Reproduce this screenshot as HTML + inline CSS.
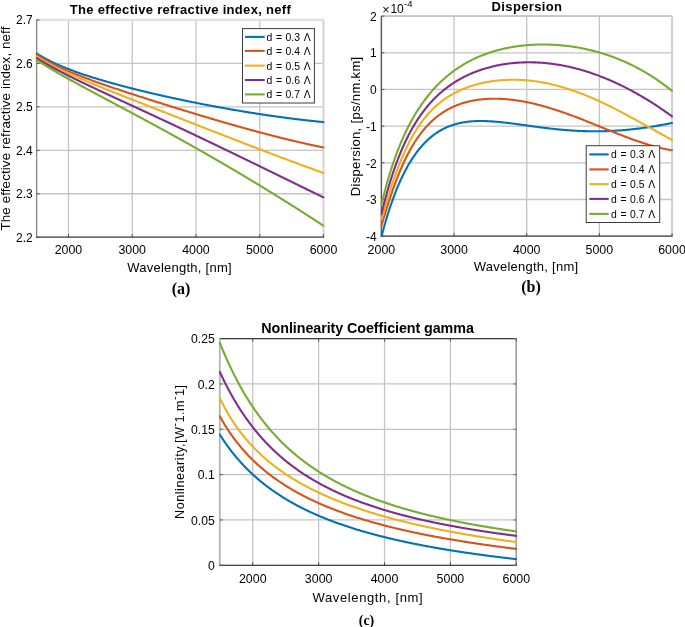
<!DOCTYPE html>
<html><head><meta charset="utf-8"><style>
html,body{margin:0;padding:0;background:#fff;width:685px;height:627px;overflow:hidden;}
svg{display:block;will-change:transform;}
</style></head><body>
<svg width="685" height="627" viewBox="0 0 685 627">
<rect width="685" height="627" fill="#fff"/>
<defs>
<clipPath id="ca"><rect x="35.6" y="18.45" width="288.9" height="219.25"/></clipPath>
<clipPath id="cb"><rect x="380.4" y="14.600000000000001" width="292.6" height="222.1"/></clipPath>
<clipPath id="cc"><rect x="218.8" y="337.1" width="298.49999999999994" height="228.69999999999993"/></clipPath>
</defs>
<line x1="68.48" y1="19.95" x2="68.48" y2="237.2" stroke="#c4c4c4" stroke-width="1.3"/>
<line x1="132.23" y1="19.95" x2="132.23" y2="237.2" stroke="#c4c4c4" stroke-width="1.3"/>
<line x1="195.99" y1="19.95" x2="195.99" y2="237.2" stroke="#c4c4c4" stroke-width="1.3"/>
<line x1="259.74" y1="19.95" x2="259.74" y2="237.2" stroke="#c4c4c4" stroke-width="1.3"/>
<line x1="323.50" y1="19.95" x2="323.50" y2="237.2" stroke="#c4c4c4" stroke-width="1.3"/>
<line x1="36.6" y1="237.20" x2="323.5" y2="237.20" stroke="#c4c4c4" stroke-width="1.3"/>
<line x1="36.6" y1="193.75" x2="323.5" y2="193.75" stroke="#c4c4c4" stroke-width="1.3"/>
<line x1="36.6" y1="150.30" x2="323.5" y2="150.30" stroke="#c4c4c4" stroke-width="1.3"/>
<line x1="36.6" y1="106.85" x2="323.5" y2="106.85" stroke="#c4c4c4" stroke-width="1.3"/>
<line x1="36.6" y1="63.40" x2="323.5" y2="63.40" stroke="#c4c4c4" stroke-width="1.3"/>
<line x1="36.6" y1="19.95" x2="323.5" y2="19.95" stroke="#c4c4c4" stroke-width="1.3"/>
<line x1="36.6" y1="19.95" x2="323.5" y2="19.95" stroke="#e0e0e0" stroke-width="2.2"/>
<line x1="323.5" y1="19.95" x2="323.5" y2="237.2" stroke="#d4d4d4" stroke-width="1.8"/>
<line x1="36.6" y1="19.95" x2="36.6" y2="237.2" stroke="#8a8a8a" stroke-width="1.4"/>
<line x1="36.0" y1="237.2" x2="324.1" y2="237.2" stroke="#4a4a4a" stroke-width="1.3"/>
<line x1="68.48" y1="237.2" x2="68.48" y2="234.2" stroke="#4a4a4a" stroke-width="1"/>
<line x1="132.23" y1="237.2" x2="132.23" y2="234.2" stroke="#4a4a4a" stroke-width="1"/>
<line x1="195.99" y1="237.2" x2="195.99" y2="234.2" stroke="#4a4a4a" stroke-width="1"/>
<line x1="259.74" y1="237.2" x2="259.74" y2="234.2" stroke="#4a4a4a" stroke-width="1"/>
<line x1="323.50" y1="237.2" x2="323.50" y2="234.2" stroke="#4a4a4a" stroke-width="1"/>
<line x1="36.6" y1="237.20" x2="39.6" y2="237.20" stroke="#555" stroke-width="1"/>
<line x1="36.6" y1="193.75" x2="39.6" y2="193.75" stroke="#555" stroke-width="1"/>
<line x1="36.6" y1="150.30" x2="39.6" y2="150.30" stroke="#555" stroke-width="1"/>
<line x1="36.6" y1="106.85" x2="39.6" y2="106.85" stroke="#555" stroke-width="1"/>
<line x1="36.6" y1="63.40" x2="39.6" y2="63.40" stroke="#555" stroke-width="1"/>
<line x1="36.6" y1="19.95" x2="39.6" y2="19.95" stroke="#555" stroke-width="1"/>
<path d="M36.60,53.50 37.32,53.95 38.04,54.40 38.76,54.84 39.48,55.27 40.20,55.70 40.91,56.12 41.63,56.53 42.35,56.94 43.07,57.35 43.79,57.75 44.51,58.14 45.23,58.53 45.95,58.91 46.67,59.29 47.39,59.66 48.10,60.03 48.82,60.40 49.54,60.76 50.26,61.12 50.98,61.47 51.70,61.82 52.42,62.17 53.14,62.51 53.86,62.85 54.58,63.18 55.30,63.51 56.01,63.84 56.73,64.16 57.45,64.48 58.17,64.80 58.89,65.12 59.61,65.43 60.33,65.74 61.05,66.04 61.77,66.35 62.49,66.65 63.20,66.95 63.92,67.24 64.64,67.53 65.36,67.82 66.08,68.11 66.80,68.40 67.52,68.68 68.24,68.96 68.96,69.24 69.68,69.52 70.40,69.79 71.11,70.06 71.83,70.33 72.55,70.60 73.27,70.87 73.99,71.13 74.71,71.40 75.43,71.66 76.15,71.92 76.87,72.17 77.59,72.43 78.30,72.68 79.02,72.93 79.74,73.19 80.46,73.43 81.18,73.68 81.90,73.93 82.62,74.17 83.34,74.41 84.06,74.66 84.78,74.90 85.50,75.13 86.21,75.37 86.93,75.61 87.65,75.84 88.37,76.08 89.09,76.31 89.81,76.54 90.53,76.77 91.25,77.00 91.97,77.22 92.69,77.45 93.40,77.67 94.12,77.90 94.84,78.12 95.56,78.34 96.28,78.56 97.00,78.78 97.72,79.00 98.44,79.22 99.16,79.43 99.88,79.65 100.60,79.86 101.31,80.08 102.03,80.29 102.75,80.50 103.47,80.71 104.19,80.92 104.91,81.13 105.63,81.34 106.35,81.54 107.07,81.75 107.79,81.96 108.50,82.16 109.22,82.36 109.94,82.57 110.66,82.77 111.38,82.97 112.10,83.17 112.82,83.37 113.54,83.57 114.26,83.77 114.98,83.97 115.70,84.16 116.41,84.36 117.13,84.55 117.85,84.75 118.57,84.94 119.29,85.14 120.01,85.33 120.73,85.52 121.45,85.71 122.17,85.90 122.89,86.09 123.60,86.28 124.32,86.47 125.04,86.66 125.76,86.85 126.48,87.03 127.20,87.22 127.92,87.41 128.64,87.59 129.36,87.77 130.08,87.96 130.80,88.14 131.51,88.33 132.23,88.51 132.95,88.69 133.67,88.87 134.39,89.05 135.11,89.23 135.83,89.41 136.55,89.59 137.27,89.77 137.99,89.95 138.70,90.12 139.42,90.30 140.14,90.48 140.86,90.65 141.58,90.83 142.30,91.00 143.02,91.18 143.74,91.35 144.46,91.52 145.18,91.70 145.90,91.87 146.61,92.04 147.33,92.21 148.05,92.38 148.77,92.55 149.49,92.72 150.21,92.89 150.93,93.06 151.65,93.23 152.37,93.40 153.09,93.57 153.80,93.74 154.52,93.90 155.24,94.07 155.96,94.23 156.68,94.40 157.40,94.57 158.12,94.73 158.84,94.89 159.56,95.06 160.28,95.22 161.00,95.38 161.71,95.55 162.43,95.71 163.15,95.87 163.87,96.03 164.59,96.19 165.31,96.35 166.03,96.51 166.75,96.67 167.47,96.83 168.19,96.99 168.90,97.15 169.62,97.31 170.34,97.47 171.06,97.62 171.78,97.78 172.50,97.94 173.22,98.09 173.94,98.25 174.66,98.40 175.38,98.56 176.10,98.71 176.81,98.87 177.53,99.02 178.25,99.17 178.97,99.33 179.69,99.48 180.41,99.63 181.13,99.78 181.85,99.93 182.57,100.09 183.29,100.24 184.00,100.39 184.72,100.54 185.44,100.69 186.16,100.83 186.88,100.98 187.60,101.13 188.32,101.28 189.04,101.43 189.76,101.57 190.48,101.72 191.20,101.87 191.91,102.01 192.63,102.16 193.35,102.30 194.07,102.45 194.79,102.59 195.51,102.74 196.23,102.88 196.95,103.03 197.67,103.17 198.39,103.31 199.10,103.45 199.82,103.59 200.54,103.74 201.26,103.88 201.98,104.02 202.70,104.16 203.42,104.30 204.14,104.44 204.86,104.58 205.58,104.72 206.30,104.86 207.01,104.99 207.73,105.13 208.45,105.27 209.17,105.41 209.89,105.54 210.61,105.68 211.33,105.81 212.05,105.95 212.77,106.09 213.49,106.22 214.20,106.35 214.92,106.49 215.64,106.62 216.36,106.76 217.08,106.89 217.80,107.02 218.52,107.15 219.24,107.28 219.96,107.42 220.68,107.55 221.40,107.68 222.11,107.81 222.83,107.94 223.55,108.07 224.27,108.20 224.99,108.33 225.71,108.45 226.43,108.58 227.15,108.71 227.87,108.84 228.59,108.96 229.30,109.09 230.02,109.22 230.74,109.34 231.46,109.47 232.18,109.59 232.90,109.72 233.62,109.84 234.34,109.96 235.06,110.09 235.78,110.21 236.50,110.33 237.21,110.46 237.93,110.58 238.65,110.70 239.37,110.82 240.09,110.94 240.81,111.06 241.53,111.18 242.25,111.30 242.97,111.42 243.69,111.54 244.40,111.66 245.12,111.78 245.84,111.89 246.56,112.01 247.28,112.13 248.00,112.24 248.72,112.36 249.44,112.48 250.16,112.59 250.88,112.71 251.60,112.82 252.31,112.93 253.03,113.05 253.75,113.16 254.47,113.27 255.19,113.39 255.91,113.50 256.63,113.61 257.35,113.72 258.07,113.83 258.79,113.94 259.50,114.05 260.22,114.16 260.94,114.27 261.66,114.38 262.38,114.49 263.10,114.60 263.82,114.70 264.54,114.81 265.26,114.92 265.98,115.02 266.70,115.13 267.41,115.23 268.13,115.34 268.85,115.44 269.57,115.55 270.29,115.65 271.01,115.76 271.73,115.86 272.45,115.96 273.17,116.06 273.89,116.16 274.60,116.27 275.32,116.37 276.04,116.47 276.76,116.57 277.48,116.67 278.20,116.77 278.92,116.86 279.64,116.96 280.36,117.06 281.08,117.16 281.80,117.25 282.51,117.35 283.23,117.45 283.95,117.54 284.67,117.64 285.39,117.73 286.11,117.83 286.83,117.92 287.55,118.01 288.27,118.11 288.99,118.20 289.70,118.29 290.42,118.38 291.14,118.48 291.86,118.57 292.58,118.66 293.30,118.75 294.02,118.84 294.74,118.93 295.46,119.01 296.18,119.10 296.90,119.19 297.61,119.28 298.33,119.36 299.05,119.45 299.77,119.54 300.49,119.62 301.21,119.71 301.93,119.79 302.65,119.87 303.37,119.96 304.09,120.04 304.80,120.12 305.52,120.21 306.24,120.29 306.96,120.37 307.68,120.45 308.40,120.53 309.12,120.61 309.84,120.69 310.56,120.77 311.28,120.85 312.00,120.92 312.71,121.00 313.43,121.08 314.15,121.15 314.87,121.23 315.59,121.31 316.31,121.38 317.03,121.46 317.75,121.53 318.47,121.60 319.19,121.68 319.90,121.75 320.62,121.82 321.34,121.89 322.06,121.96 322.78,122.03 323.50,122.10" fill="none" stroke="#0072BD" stroke-width="2.1" stroke-linejoin="round" stroke-linecap="round" clip-path="url(#ca)"/>
<path d="M36.60,54.81 37.32,55.28 38.04,55.75 38.76,56.21 39.48,56.66 40.20,57.10 40.91,57.54 41.63,57.98 42.35,58.41 43.07,58.83 43.79,59.25 44.51,59.66 45.23,60.07 45.95,60.47 46.67,60.87 47.39,61.26 48.10,61.65 48.82,62.04 49.54,62.42 50.26,62.79 50.98,63.17 51.70,63.53 52.42,63.90 53.14,64.26 53.86,64.62 54.58,64.97 55.30,65.32 56.01,65.67 56.73,66.02 57.45,66.36 58.17,66.70 58.89,67.03 59.61,67.37 60.33,67.70 61.05,68.02 61.77,68.35 62.49,68.67 63.20,68.99 63.92,69.31 64.64,69.63 65.36,69.94 66.08,70.25 66.80,70.56 67.52,70.87 68.24,71.17 68.96,71.48 69.68,71.78 70.40,72.08 71.11,72.37 71.83,72.67 72.55,72.96 73.27,73.26 73.99,73.55 74.71,73.84 75.43,74.12 76.15,74.41 76.87,74.69 77.59,74.98 78.30,75.26 79.02,75.54 79.74,75.82 80.46,76.10 81.18,76.37 81.90,76.65 82.62,76.92 83.34,77.20 84.06,77.47 84.78,77.74 85.50,78.01 86.21,78.28 86.93,78.54 87.65,78.81 88.37,79.08 89.09,79.34 89.81,79.60 90.53,79.87 91.25,80.13 91.97,80.39 92.69,80.65 93.40,80.91 94.12,81.17 94.84,81.43 95.56,81.68 96.28,81.94 97.00,82.20 97.72,82.45 98.44,82.71 99.16,82.96 99.88,83.21 100.60,83.46 101.31,83.72 102.03,83.97 102.75,84.22 103.47,84.47 104.19,84.72 104.91,84.96 105.63,85.21 106.35,85.46 107.07,85.71 107.79,85.95 108.50,86.20 109.22,86.45 109.94,86.69 110.66,86.93 111.38,87.18 112.10,87.42 112.82,87.67 113.54,87.91 114.26,88.15 114.98,88.39 115.70,88.63 116.41,88.88 117.13,89.12 117.85,89.36 118.57,89.60 119.29,89.84 120.01,90.08 120.73,90.32 121.45,90.55 122.17,90.79 122.89,91.03 123.60,91.27 124.32,91.50 125.04,91.74 125.76,91.98 126.48,92.22 127.20,92.45 127.92,92.69 128.64,92.92 129.36,93.16 130.08,93.39 130.80,93.63 131.51,93.86 132.23,94.10 132.95,94.33 133.67,94.56 134.39,94.80 135.11,95.03 135.83,95.26 136.55,95.50 137.27,95.73 137.99,95.96 138.70,96.19 139.42,96.42 140.14,96.66 140.86,96.89 141.58,97.12 142.30,97.35 143.02,97.58 143.74,97.81 144.46,98.04 145.18,98.27 145.90,98.50 146.61,98.73 147.33,98.96 148.05,99.19 148.77,99.42 149.49,99.65 150.21,99.88 150.93,100.10 151.65,100.33 152.37,100.56 153.09,100.79 153.80,101.02 154.52,101.24 155.24,101.47 155.96,101.70 156.68,101.93 157.40,102.15 158.12,102.38 158.84,102.61 159.56,102.83 160.28,103.06 161.00,103.29 161.71,103.51 162.43,103.74 163.15,103.96 163.87,104.19 164.59,104.41 165.31,104.64 166.03,104.86 166.75,105.09 167.47,105.31 168.19,105.54 168.90,105.76 169.62,105.98 170.34,106.21 171.06,106.43 171.78,106.66 172.50,106.88 173.22,107.10 173.94,107.32 174.66,107.55 175.38,107.77 176.10,107.99 176.81,108.21 177.53,108.44 178.25,108.66 178.97,108.88 179.69,109.10 180.41,109.32 181.13,109.54 181.85,109.77 182.57,109.99 183.29,110.21 184.00,110.43 184.72,110.65 185.44,110.87 186.16,111.09 186.88,111.31 187.60,111.53 188.32,111.75 189.04,111.96 189.76,112.18 190.48,112.40 191.20,112.62 191.91,112.84 192.63,113.06 193.35,113.28 194.07,113.49 194.79,113.71 195.51,113.93 196.23,114.15 196.95,114.36 197.67,114.58 198.39,114.80 199.10,115.01 199.82,115.23 200.54,115.44 201.26,115.66 201.98,115.88 202.70,116.09 203.42,116.31 204.14,116.52 204.86,116.74 205.58,116.95 206.30,117.16 207.01,117.38 207.73,117.59 208.45,117.81 209.17,118.02 209.89,118.23 210.61,118.45 211.33,118.66 212.05,118.87 212.77,119.08 213.49,119.29 214.20,119.51 214.92,119.72 215.64,119.93 216.36,120.14 217.08,120.35 217.80,120.56 218.52,120.77 219.24,120.98 219.96,121.19 220.68,121.40 221.40,121.61 222.11,121.82 222.83,122.03 223.55,122.24 224.27,122.44 224.99,122.65 225.71,122.86 226.43,123.07 227.15,123.27 227.87,123.48 228.59,123.69 229.30,123.89 230.02,124.10 230.74,124.30 231.46,124.51 232.18,124.71 232.90,124.92 233.62,125.12 234.34,125.33 235.06,125.53 235.78,125.73 236.50,125.94 237.21,126.14 237.93,126.34 238.65,126.55 239.37,126.75 240.09,126.95 240.81,127.15 241.53,127.35 242.25,127.55 242.97,127.75 243.69,127.95 244.40,128.15 245.12,128.35 245.84,128.55 246.56,128.75 247.28,128.95 248.00,129.15 248.72,129.34 249.44,129.54 250.16,129.74 250.88,129.93 251.60,130.13 252.31,130.33 253.03,130.52 253.75,130.72 254.47,130.91 255.19,131.11 255.91,131.30 256.63,131.49 257.35,131.69 258.07,131.88 258.79,132.07 259.50,132.27 260.22,132.46 260.94,132.65 261.66,132.84 262.38,133.03 263.10,133.22 263.82,133.41 264.54,133.60 265.26,133.79 265.98,133.98 266.70,134.17 267.41,134.35 268.13,134.54 268.85,134.73 269.57,134.91 270.29,135.10 271.01,135.29 271.73,135.47 272.45,135.66 273.17,135.84 273.89,136.03 274.60,136.21 275.32,136.39 276.04,136.57 276.76,136.76 277.48,136.94 278.20,137.12 278.92,137.30 279.64,137.48 280.36,137.66 281.08,137.84 281.80,138.02 282.51,138.20 283.23,138.38 283.95,138.55 284.67,138.73 285.39,138.91 286.11,139.08 286.83,139.26 287.55,139.44 288.27,139.61 288.99,139.78 289.70,139.96 290.42,140.13 291.14,140.30 291.86,140.48 292.58,140.65 293.30,140.82 294.02,140.99 294.74,141.16 295.46,141.33 296.18,141.50 296.90,141.67 297.61,141.84 298.33,142.00 299.05,142.17 299.77,142.34 300.49,142.50 301.21,142.67 301.93,142.83 302.65,143.00 303.37,143.16 304.09,143.33 304.80,143.49 305.52,143.65 306.24,143.81 306.96,143.97 307.68,144.13 308.40,144.29 309.12,144.45 309.84,144.61 310.56,144.77 311.28,144.93 312.00,145.09 312.71,145.24 313.43,145.40 314.15,145.55 314.87,145.71 315.59,145.86 316.31,146.02 317.03,146.17 317.75,146.32 318.47,146.47 319.19,146.62 319.90,146.78 320.62,146.93 321.34,147.07 322.06,147.22 322.78,147.37 323.50,147.52" fill="none" stroke="#D95319" stroke-width="2.1" stroke-linejoin="round" stroke-linecap="round" clip-path="url(#ca)"/>
<path d="M36.60,56.28 37.32,56.74 38.04,57.20 38.76,57.66 39.48,58.11 40.20,58.56 40.91,59.00 41.63,59.44 42.35,59.87 43.07,60.29 43.79,60.72 44.51,61.13 45.23,61.55 45.95,61.96 46.67,62.37 47.39,62.77 48.10,63.17 48.82,63.56 49.54,63.95 50.26,64.34 50.98,64.73 51.70,65.11 52.42,65.49 53.14,65.87 53.86,66.24 54.58,66.61 55.30,66.98 56.01,67.35 56.73,67.71 57.45,68.07 58.17,68.43 58.89,68.78 59.61,69.14 60.33,69.49 61.05,69.84 61.77,70.18 62.49,70.53 63.20,70.87 63.92,71.22 64.64,71.55 65.36,71.89 66.08,72.23 66.80,72.56 67.52,72.90 68.24,73.23 68.96,73.56 69.68,73.89 70.40,74.21 71.11,74.54 71.83,74.86 72.55,75.18 73.27,75.51 73.99,75.83 74.71,76.15 75.43,76.46 76.15,76.78 76.87,77.10 77.59,77.41 78.30,77.72 79.02,78.04 79.74,78.35 80.46,78.66 81.18,78.97 81.90,79.27 82.62,79.58 83.34,79.89 84.06,80.20 84.78,80.50 85.50,80.80 86.21,81.11 86.93,81.41 87.65,81.71 88.37,82.01 89.09,82.31 89.81,82.61 90.53,82.91 91.25,83.21 91.97,83.51 92.69,83.81 93.40,84.11 94.12,84.40 94.84,84.70 95.56,84.99 96.28,85.29 97.00,85.58 97.72,85.88 98.44,86.17 99.16,86.46 99.88,86.76 100.60,87.05 101.31,87.34 102.03,87.63 102.75,87.92 103.47,88.21 104.19,88.50 104.91,88.79 105.63,89.08 106.35,89.37 107.07,89.66 107.79,89.95 108.50,90.24 109.22,90.52 109.94,90.81 110.66,91.10 111.38,91.39 112.10,91.67 112.82,91.96 113.54,92.25 114.26,92.53 114.98,92.82 115.70,93.10 116.41,93.39 117.13,93.67 117.85,93.96 118.57,94.24 119.29,94.53 120.01,94.81 120.73,95.10 121.45,95.38 122.17,95.67 122.89,95.95 123.60,96.23 124.32,96.52 125.04,96.80 125.76,97.09 126.48,97.37 127.20,97.65 127.92,97.93 128.64,98.22 129.36,98.50 130.08,98.78 130.80,99.07 131.51,99.35 132.23,99.63 132.95,99.91 133.67,100.20 134.39,100.48 135.11,100.76 135.83,101.04 136.55,101.32 137.27,101.61 137.99,101.89 138.70,102.17 139.42,102.45 140.14,102.73 140.86,103.02 141.58,103.30 142.30,103.58 143.02,103.86 143.74,104.14 144.46,104.42 145.18,104.71 145.90,104.99 146.61,105.27 147.33,105.55 148.05,105.83 148.77,106.11 149.49,106.39 150.21,106.67 150.93,106.96 151.65,107.24 152.37,107.52 153.09,107.80 153.80,108.08 154.52,108.36 155.24,108.64 155.96,108.92 156.68,109.21 157.40,109.49 158.12,109.77 158.84,110.05 159.56,110.33 160.28,110.61 161.00,110.89 161.71,111.17 162.43,111.46 163.15,111.74 163.87,112.02 164.59,112.30 165.31,112.58 166.03,112.86 166.75,113.14 167.47,113.42 168.19,113.71 168.90,113.99 169.62,114.27 170.34,114.55 171.06,114.83 171.78,115.11 172.50,115.39 173.22,115.67 173.94,115.95 174.66,116.24 175.38,116.52 176.10,116.80 176.81,117.08 177.53,117.36 178.25,117.64 178.97,117.92 179.69,118.20 180.41,118.49 181.13,118.77 181.85,119.05 182.57,119.33 183.29,119.61 184.00,119.89 184.72,120.17 185.44,120.46 186.16,120.74 186.88,121.02 187.60,121.30 188.32,121.58 189.04,121.86 189.76,122.14 190.48,122.42 191.20,122.71 191.91,122.99 192.63,123.27 193.35,123.55 194.07,123.83 194.79,124.11 195.51,124.39 196.23,124.67 196.95,124.96 197.67,125.24 198.39,125.52 199.10,125.80 199.82,126.08 200.54,126.36 201.26,126.64 201.98,126.92 202.70,127.20 203.42,127.49 204.14,127.77 204.86,128.05 205.58,128.33 206.30,128.61 207.01,128.89 207.73,129.17 208.45,129.45 209.17,129.73 209.89,130.01 210.61,130.29 211.33,130.58 212.05,130.86 212.77,131.14 213.49,131.42 214.20,131.70 214.92,131.98 215.64,132.26 216.36,132.54 217.08,132.82 217.80,133.10 218.52,133.38 219.24,133.66 219.96,133.94 220.68,134.22 221.40,134.50 222.11,134.78 222.83,135.06 223.55,135.34 224.27,135.62 224.99,135.90 225.71,136.18 226.43,136.46 227.15,136.74 227.87,137.02 228.59,137.30 229.30,137.58 230.02,137.86 230.74,138.14 231.46,138.42 232.18,138.70 232.90,138.98 233.62,139.26 234.34,139.53 235.06,139.81 235.78,140.09 236.50,140.37 237.21,140.65 237.93,140.93 238.65,141.21 239.37,141.49 240.09,141.76 240.81,142.04 241.53,142.32 242.25,142.60 242.97,142.88 243.69,143.15 244.40,143.43 245.12,143.71 245.84,143.99 246.56,144.26 247.28,144.54 248.00,144.82 248.72,145.10 249.44,145.37 250.16,145.65 250.88,145.93 251.60,146.20 252.31,146.48 253.03,146.76 253.75,147.03 254.47,147.31 255.19,147.59 255.91,147.86 256.63,148.14 257.35,148.41 258.07,148.69 258.79,148.96 259.50,149.24 260.22,149.51 260.94,149.79 261.66,150.06 262.38,150.34 263.10,150.61 263.82,150.89 264.54,151.16 265.26,151.44 265.98,151.71 266.70,151.98 267.41,152.26 268.13,152.53 268.85,152.80 269.57,153.08 270.29,153.35 271.01,153.62 271.73,153.90 272.45,154.17 273.17,154.44 273.89,154.71 274.60,154.98 275.32,155.26 276.04,155.53 276.76,155.80 277.48,156.07 278.20,156.34 278.92,156.61 279.64,156.88 280.36,157.15 281.08,157.42 281.80,157.69 282.51,157.96 283.23,158.23 283.95,158.50 284.67,158.77 285.39,159.04 286.11,159.31 286.83,159.58 287.55,159.85 288.27,160.12 288.99,160.38 289.70,160.65 290.42,160.92 291.14,161.19 291.86,161.45 292.58,161.72 293.30,161.99 294.02,162.25 294.74,162.52 295.46,162.79 296.18,163.05 296.90,163.32 297.61,163.58 298.33,163.85 299.05,164.11 299.77,164.38 300.49,164.64 301.21,164.90 301.93,165.17 302.65,165.43 303.37,165.69 304.09,165.96 304.80,166.22 305.52,166.48 306.24,166.75 306.96,167.01 307.68,167.27 308.40,167.53 309.12,167.79 309.84,168.05 310.56,168.31 311.28,168.57 312.00,168.83 312.71,169.09 313.43,169.35 314.15,169.61 314.87,169.87 315.59,170.13 316.31,170.39 317.03,170.64 317.75,170.90 318.47,171.16 319.19,171.42 319.90,171.67 320.62,171.93 321.34,172.19 322.06,172.44 322.78,172.70 323.50,172.95" fill="none" stroke="#EDB120" stroke-width="2.1" stroke-linejoin="round" stroke-linecap="round" clip-path="url(#ca)"/>
<path d="M36.60,58.03 37.32,58.49 38.04,58.94 38.76,59.39 39.48,59.84 40.20,60.28 40.91,60.72 41.63,61.16 42.35,61.59 43.07,62.02 43.79,62.45 44.51,62.87 45.23,63.29 45.95,63.71 46.67,64.12 47.39,64.53 48.10,64.94 48.82,65.35 49.54,65.75 50.26,66.16 50.98,66.56 51.70,66.95 52.42,67.35 53.14,67.74 53.86,68.13 54.58,68.52 55.30,68.91 56.01,69.29 56.73,69.68 57.45,70.06 58.17,70.44 58.89,70.82 59.61,71.19 60.33,71.57 61.05,71.94 61.77,72.31 62.49,72.68 63.20,73.05 63.92,73.42 64.64,73.79 65.36,74.15 66.08,74.52 66.80,74.88 67.52,75.24 68.24,75.60 68.96,75.96 69.68,76.32 70.40,76.68 71.11,77.03 71.83,77.39 72.55,77.74 73.27,78.10 73.99,78.45 74.71,78.80 75.43,79.15 76.15,79.51 76.87,79.85 77.59,80.20 78.30,80.55 79.02,80.90 79.74,81.25 80.46,81.59 81.18,81.94 81.90,82.28 82.62,82.63 83.34,82.97 84.06,83.32 84.78,83.66 85.50,84.00 86.21,84.34 86.93,84.69 87.65,85.03 88.37,85.37 89.09,85.71 89.81,86.05 90.53,86.39 91.25,86.73 91.97,87.06 92.69,87.40 93.40,87.74 94.12,88.08 94.84,88.41 95.56,88.75 96.28,89.09 97.00,89.42 97.72,89.76 98.44,90.10 99.16,90.43 99.88,90.77 100.60,91.10 101.31,91.44 102.03,91.77 102.75,92.11 103.47,92.44 104.19,92.77 104.91,93.11 105.63,93.44 106.35,93.78 107.07,94.11 107.79,94.44 108.50,94.78 109.22,95.11 109.94,95.44 110.66,95.78 111.38,96.11 112.10,96.44 112.82,96.77 113.54,97.11 114.26,97.44 114.98,97.77 115.70,98.10 116.41,98.44 117.13,98.77 117.85,99.10 118.57,99.43 119.29,99.76 120.01,100.10 120.73,100.43 121.45,100.76 122.17,101.09 122.89,101.42 123.60,101.76 124.32,102.09 125.04,102.42 125.76,102.75 126.48,103.08 127.20,103.42 127.92,103.75 128.64,104.08 129.36,104.41 130.08,104.74 130.80,105.08 131.51,105.41 132.23,105.74 132.95,106.07 133.67,106.40 134.39,106.74 135.11,107.07 135.83,107.40 136.55,107.73 137.27,108.07 137.99,108.40 138.70,108.73 139.42,109.06 140.14,109.40 140.86,109.73 141.58,110.06 142.30,110.40 143.02,110.73 143.74,111.06 144.46,111.39 145.18,111.73 145.90,112.06 146.61,112.40 147.33,112.73 148.05,113.06 148.77,113.40 149.49,113.73 150.21,114.06 150.93,114.40 151.65,114.73 152.37,115.07 153.09,115.40 153.80,115.74 154.52,116.07 155.24,116.40 155.96,116.74 156.68,117.07 157.40,117.41 158.12,117.74 158.84,118.08 159.56,118.41 160.28,118.75 161.00,119.09 161.71,119.42 162.43,119.76 163.15,120.09 163.87,120.43 164.59,120.77 165.31,121.10 166.03,121.44 166.75,121.77 167.47,122.11 168.19,122.45 168.90,122.78 169.62,123.12 170.34,123.46 171.06,123.80 171.78,124.13 172.50,124.47 173.22,124.81 173.94,125.15 174.66,125.48 175.38,125.82 176.10,126.16 176.81,126.50 177.53,126.84 178.25,127.18 178.97,127.51 179.69,127.85 180.41,128.19 181.13,128.53 181.85,128.87 182.57,129.21 183.29,129.55 184.00,129.89 184.72,130.23 185.44,130.57 186.16,130.91 186.88,131.25 187.60,131.59 188.32,131.93 189.04,132.27 189.76,132.61 190.48,132.95 191.20,133.29 191.91,133.63 192.63,133.97 193.35,134.31 194.07,134.65 194.79,135.00 195.51,135.34 196.23,135.68 196.95,136.02 197.67,136.36 198.39,136.70 199.10,137.05 199.82,137.39 200.54,137.73 201.26,138.07 201.98,138.42 202.70,138.76 203.42,139.10 204.14,139.44 204.86,139.79 205.58,140.13 206.30,140.47 207.01,140.82 207.73,141.16 208.45,141.51 209.17,141.85 209.89,142.19 210.61,142.54 211.33,142.88 212.05,143.23 212.77,143.57 213.49,143.91 214.20,144.26 214.92,144.60 215.64,144.95 216.36,145.29 217.08,145.64 217.80,145.98 218.52,146.33 219.24,146.67 219.96,147.02 220.68,147.37 221.40,147.71 222.11,148.06 222.83,148.40 223.55,148.75 224.27,149.10 224.99,149.44 225.71,149.79 226.43,150.13 227.15,150.48 227.87,150.83 228.59,151.17 229.30,151.52 230.02,151.87 230.74,152.22 231.46,152.56 232.18,152.91 232.90,153.26 233.62,153.60 234.34,153.95 235.06,154.30 235.78,154.65 236.50,155.00 237.21,155.34 237.93,155.69 238.65,156.04 239.37,156.39 240.09,156.74 240.81,157.08 241.53,157.43 242.25,157.78 242.97,158.13 243.69,158.48 244.40,158.83 245.12,159.18 245.84,159.52 246.56,159.87 247.28,160.22 248.00,160.57 248.72,160.92 249.44,161.27 250.16,161.62 250.88,161.97 251.60,162.32 252.31,162.67 253.03,163.02 253.75,163.37 254.47,163.72 255.19,164.07 255.91,164.42 256.63,164.77 257.35,165.12 258.07,165.47 258.79,165.82 259.50,166.17 260.22,166.52 260.94,166.87 261.66,167.22 262.38,167.57 263.10,167.92 263.82,168.27 264.54,168.62 265.26,168.97 265.98,169.32 266.70,169.67 267.41,170.02 268.13,170.37 268.85,170.72 269.57,171.07 270.29,171.42 271.01,171.78 271.73,172.13 272.45,172.48 273.17,172.83 273.89,173.18 274.60,173.53 275.32,173.88 276.04,174.23 276.76,174.58 277.48,174.94 278.20,175.29 278.92,175.64 279.64,175.99 280.36,176.34 281.08,176.69 281.80,177.04 282.51,177.40 283.23,177.75 283.95,178.10 284.67,178.45 285.39,178.80 286.11,179.15 286.83,179.51 287.55,179.86 288.27,180.21 288.99,180.56 289.70,180.91 290.42,181.26 291.14,181.62 291.86,181.97 292.58,182.32 293.30,182.67 294.02,183.02 294.74,183.37 295.46,183.73 296.18,184.08 296.90,184.43 297.61,184.78 298.33,185.13 299.05,185.48 299.77,185.84 300.49,186.19 301.21,186.54 301.93,186.89 302.65,187.24 303.37,187.59 304.09,187.95 304.80,188.30 305.52,188.65 306.24,189.00 306.96,189.35 307.68,189.70 308.40,190.06 309.12,190.41 309.84,190.76 310.56,191.11 311.28,191.46 312.00,191.81 312.71,192.17 313.43,192.52 314.15,192.87 314.87,193.22 315.59,193.57 316.31,193.92 317.03,194.27 317.75,194.62 318.47,194.98 319.19,195.33 319.90,195.68 320.62,196.03 321.34,196.38 322.06,196.73 322.78,197.08 323.50,197.43" fill="none" stroke="#7E2F8E" stroke-width="2.1" stroke-linejoin="round" stroke-linecap="round" clip-path="url(#ca)"/>
<path d="M36.60,59.94 37.32,60.41 38.04,60.87 38.76,61.34 39.48,61.80 40.20,62.26 40.91,62.71 41.63,63.17 42.35,63.62 43.07,64.07 43.79,64.52 44.51,64.96 45.23,65.40 45.95,65.84 46.67,66.28 47.39,66.72 48.10,67.15 48.82,67.59 49.54,68.02 50.26,68.45 50.98,68.88 51.70,69.30 52.42,69.73 53.14,70.15 53.86,70.57 54.58,70.99 55.30,71.41 56.01,71.83 56.73,72.24 57.45,72.66 58.17,73.07 58.89,73.49 59.61,73.90 60.33,74.31 61.05,74.72 61.77,75.13 62.49,75.53 63.20,75.94 63.92,76.34 64.64,76.75 65.36,77.15 66.08,77.56 66.80,77.96 67.52,78.36 68.24,78.76 68.96,79.16 69.68,79.56 70.40,79.96 71.11,80.35 71.83,80.75 72.55,81.15 73.27,81.54 73.99,81.94 74.71,82.33 75.43,82.72 76.15,83.12 76.87,83.51 77.59,83.90 78.30,84.29 79.02,84.69 79.74,85.08 80.46,85.47 81.18,85.86 81.90,86.25 82.62,86.64 83.34,87.03 84.06,87.41 84.78,87.80 85.50,88.19 86.21,88.58 86.93,88.96 87.65,89.35 88.37,89.74 89.09,90.13 89.81,90.51 90.53,90.90 91.25,91.28 91.97,91.67 92.69,92.05 93.40,92.44 94.12,92.82 94.84,93.21 95.56,93.59 96.28,93.98 97.00,94.36 97.72,94.75 98.44,95.13 99.16,95.51 99.88,95.90 100.60,96.28 101.31,96.66 102.03,97.05 102.75,97.43 103.47,97.81 104.19,98.20 104.91,98.58 105.63,98.96 106.35,99.35 107.07,99.73 107.79,100.11 108.50,100.50 109.22,100.88 109.94,101.26 110.66,101.64 111.38,102.03 112.10,102.41 112.82,102.79 113.54,103.18 114.26,103.56 114.98,103.94 115.70,104.32 116.41,104.71 117.13,105.09 117.85,105.47 118.57,105.86 119.29,106.24 120.01,106.62 120.73,107.01 121.45,107.39 122.17,107.77 122.89,108.16 123.60,108.54 124.32,108.92 125.04,109.31 125.76,109.69 126.48,110.08 127.20,110.46 127.92,110.84 128.64,111.23 129.36,111.61 130.08,112.00 130.80,112.38 131.51,112.77 132.23,113.15 132.95,113.54 133.67,113.92 134.39,114.31 135.11,114.69 135.83,115.08 136.55,115.47 137.27,115.85 137.99,116.24 138.70,116.62 139.42,117.01 140.14,117.40 140.86,117.79 141.58,118.17 142.30,118.56 143.02,118.95 143.74,119.33 144.46,119.72 145.18,120.11 145.90,120.50 146.61,120.89 147.33,121.28 148.05,121.66 148.77,122.05 149.49,122.44 150.21,122.83 150.93,123.22 151.65,123.61 152.37,124.00 153.09,124.39 153.80,124.78 154.52,125.17 155.24,125.56 155.96,125.95 156.68,126.35 157.40,126.74 158.12,127.13 158.84,127.52 159.56,127.91 160.28,128.31 161.00,128.70 161.71,129.09 162.43,129.48 163.15,129.88 163.87,130.27 164.59,130.67 165.31,131.06 166.03,131.45 166.75,131.85 167.47,132.24 168.19,132.64 168.90,133.03 169.62,133.43 170.34,133.83 171.06,134.22 171.78,134.62 172.50,135.02 173.22,135.41 173.94,135.81 174.66,136.21 175.38,136.61 176.10,137.00 176.81,137.40 177.53,137.80 178.25,138.20 178.97,138.60 179.69,139.00 180.41,139.40 181.13,139.80 181.85,140.20 182.57,140.60 183.29,141.00 184.00,141.40 184.72,141.80 185.44,142.20 186.16,142.61 186.88,143.01 187.60,143.41 188.32,143.81 189.04,144.22 189.76,144.62 190.48,145.03 191.20,145.43 191.91,145.83 192.63,146.24 193.35,146.64 194.07,147.05 194.79,147.45 195.51,147.86 196.23,148.27 196.95,148.67 197.67,149.08 198.39,149.49 199.10,149.90 199.82,150.30 200.54,150.71 201.26,151.12 201.98,151.53 202.70,151.94 203.42,152.35 204.14,152.76 204.86,153.17 205.58,153.58 206.30,153.99 207.01,154.40 207.73,154.81 208.45,155.22 209.17,155.63 209.89,156.05 210.61,156.46 211.33,156.87 212.05,157.28 212.77,157.70 213.49,158.11 214.20,158.53 214.92,158.94 215.64,159.36 216.36,159.77 217.08,160.19 217.80,160.60 218.52,161.02 219.24,161.44 219.96,161.85 220.68,162.27 221.40,162.69 222.11,163.11 222.83,163.52 223.55,163.94 224.27,164.36 224.99,164.78 225.71,165.20 226.43,165.62 227.15,166.04 227.87,166.46 228.59,166.88 229.30,167.30 230.02,167.73 230.74,168.15 231.46,168.57 232.18,168.99 232.90,169.42 233.62,169.84 234.34,170.26 235.06,170.69 235.78,171.11 236.50,171.54 237.21,171.96 237.93,172.39 238.65,172.81 239.37,173.24 240.09,173.67 240.81,174.09 241.53,174.52 242.25,174.95 242.97,175.38 243.69,175.81 244.40,176.24 245.12,176.66 245.84,177.09 246.56,177.52 247.28,177.95 248.00,178.39 248.72,178.82 249.44,179.25 250.16,179.68 250.88,180.11 251.60,180.54 252.31,180.98 253.03,181.41 253.75,181.84 254.47,182.28 255.19,182.71 255.91,183.15 256.63,183.58 257.35,184.02 258.07,184.45 258.79,184.89 259.50,185.33 260.22,185.76 260.94,186.20 261.66,186.64 262.38,187.08 263.10,187.51 263.82,187.95 264.54,188.39 265.26,188.83 265.98,189.27 266.70,189.71 267.41,190.15 268.13,190.59 268.85,191.04 269.57,191.48 270.29,191.92 271.01,192.36 271.73,192.81 272.45,193.25 273.17,193.69 273.89,194.14 274.60,194.58 275.32,195.03 276.04,195.47 276.76,195.92 277.48,196.36 278.20,196.81 278.92,197.26 279.64,197.70 280.36,198.15 281.08,198.60 281.80,199.05 282.51,199.50 283.23,199.95 283.95,200.40 284.67,200.85 285.39,201.30 286.11,201.75 286.83,202.20 287.55,202.65 288.27,203.10 288.99,203.56 289.70,204.01 290.42,204.46 291.14,204.91 291.86,205.37 292.58,205.82 293.30,206.28 294.02,206.73 294.74,207.19 295.46,207.64 296.18,208.10 296.90,208.56 297.61,209.01 298.33,209.47 299.05,209.93 299.77,210.39 300.49,210.85 301.21,211.31 301.93,211.77 302.65,212.23 303.37,212.69 304.09,213.15 304.80,213.61 305.52,214.07 306.24,214.53 306.96,214.99 307.68,215.46 308.40,215.92 309.12,216.38 309.84,216.85 310.56,217.31 311.28,217.78 312.00,218.24 312.71,218.71 313.43,219.17 314.15,219.64 314.87,220.11 315.59,220.58 316.31,221.04 317.03,221.51 317.75,221.98 318.47,222.45 319.19,222.92 319.90,223.39 320.62,223.86 321.34,224.33 322.06,224.80 322.78,225.27 323.50,225.74" fill="none" stroke="#77AC30" stroke-width="2.1" stroke-linejoin="round" stroke-linecap="round" clip-path="url(#ca)"/>
<rect x="242.5" y="28.6" width="71.89999999999998" height="74.4" fill="#fff" stroke="#3c3c3c" stroke-width="1"/>
<line x1="245" y1="36.9" x2="264.7" y2="36.9" stroke="#0072BD" stroke-width="2.1"/>
<text y="40.9" font-family="'Liberation Sans', sans-serif" font-size="10.4" fill="#000"><tspan x="266.40000000000003">d</tspan><tspan x="276.1">=</tspan><tspan x="285.5">0.3</tspan><tspan x="303.70000000000005">&#923;</tspan></text>
<line x1="245" y1="50.9" x2="264.7" y2="50.9" stroke="#D95319" stroke-width="2.1"/>
<text y="54.9" font-family="'Liberation Sans', sans-serif" font-size="10.4" fill="#000"><tspan x="266.40000000000003">d</tspan><tspan x="276.1">=</tspan><tspan x="285.5">0.4</tspan><tspan x="303.70000000000005">&#923;</tspan></text>
<line x1="245" y1="65.6" x2="264.7" y2="65.6" stroke="#EDB120" stroke-width="2.1"/>
<text y="69.6" font-family="'Liberation Sans', sans-serif" font-size="10.4" fill="#000"><tspan x="266.40000000000003">d</tspan><tspan x="276.1">=</tspan><tspan x="285.5">0.5</tspan><tspan x="303.70000000000005">&#923;</tspan></text>
<line x1="245" y1="80" x2="264.7" y2="80" stroke="#7E2F8E" stroke-width="2.1"/>
<text y="84.0" font-family="'Liberation Sans', sans-serif" font-size="10.4" fill="#000"><tspan x="266.40000000000003">d</tspan><tspan x="276.1">=</tspan><tspan x="285.5">0.6</tspan><tspan x="303.70000000000005">&#923;</tspan></text>
<line x1="245" y1="94.4" x2="264.7" y2="94.4" stroke="#77AC30" stroke-width="2.1"/>
<text y="98.4" font-family="'Liberation Sans', sans-serif" font-size="10.4" fill="#000"><tspan x="266.40000000000003">d</tspan><tspan x="276.1">=</tspan><tspan x="285.5">0.7</tspan><tspan x="303.70000000000005">&#923;</tspan></text>
<text x="180.3" y="14.3" font-family="'Liberation Sans', sans-serif" font-size="13" font-weight="bold" text-anchor="middle" fill="#000" textLength="221" lengthAdjust="spacing">The effective refractive index, neff</text>
<text x="32.8" y="241.5" font-family="'Liberation Sans', sans-serif" font-size="12" font-weight="normal" text-anchor="end" fill="#000">2.2</text>
<text x="32.8" y="198.05000000000015" font-family="'Liberation Sans', sans-serif" font-size="12" font-weight="normal" text-anchor="end" fill="#000">2.3</text>
<text x="32.8" y="154.60000000000014" font-family="'Liberation Sans', sans-serif" font-size="12" font-weight="normal" text-anchor="end" fill="#000">2.4</text>
<text x="32.8" y="111.15000000000008" font-family="'Liberation Sans', sans-serif" font-size="12" font-weight="normal" text-anchor="end" fill="#000">2.5</text>
<text x="32.8" y="67.70000000000003" font-family="'Liberation Sans', sans-serif" font-size="12" font-weight="normal" text-anchor="end" fill="#000">2.6</text>
<text x="32.8" y="24.24999999999999" font-family="'Liberation Sans', sans-serif" font-size="12" font-weight="normal" text-anchor="end" fill="#000">2.7</text>
<text x="68.47777777777777" y="253.5" font-family="'Liberation Sans', sans-serif" font-size="12.4" font-weight="normal" text-anchor="middle" fill="#000">2000</text>
<text x="132.23333333333332" y="253.5" font-family="'Liberation Sans', sans-serif" font-size="12.4" font-weight="normal" text-anchor="middle" fill="#000">3000</text>
<text x="195.98888888888888" y="253.5" font-family="'Liberation Sans', sans-serif" font-size="12.4" font-weight="normal" text-anchor="middle" fill="#000">4000</text>
<text x="259.7444444444444" y="253.5" font-family="'Liberation Sans', sans-serif" font-size="12.4" font-weight="normal" text-anchor="middle" fill="#000">5000</text>
<text x="323.5" y="253.5" font-family="'Liberation Sans', sans-serif" font-size="12.4" font-weight="normal" text-anchor="middle" fill="#000">6000</text>
<text x="179.4" y="271.8" font-family="'Liberation Sans', sans-serif" font-size="13" font-weight="normal" text-anchor="middle" fill="#000" textLength="104.5" lengthAdjust="spacing">Wavelength, [nm]</text>
<text x="9.7" y="128.55" font-family="'Liberation Sans', sans-serif" font-size="13.4" font-weight="normal" text-anchor="middle" fill="#000" textLength="204" lengthAdjust="spacing" transform="rotate(-90 9.7 128.55)">The effective refractive index, neff</text>
<text x="181" y="293.5" font-family="'Liberation Serif', serif" font-size="16" font-weight="bold" text-anchor="middle" fill="#000">(a)</text>
<line x1="381.40" y1="16.1" x2="381.40" y2="236.2" stroke="#c4c4c4" stroke-width="1.3"/>
<line x1="454.05" y1="16.1" x2="454.05" y2="236.2" stroke="#c4c4c4" stroke-width="1.3"/>
<line x1="526.70" y1="16.1" x2="526.70" y2="236.2" stroke="#c4c4c4" stroke-width="1.3"/>
<line x1="599.35" y1="16.1" x2="599.35" y2="236.2" stroke="#c4c4c4" stroke-width="1.3"/>
<line x1="672.00" y1="16.1" x2="672.00" y2="236.2" stroke="#c4c4c4" stroke-width="1.3"/>
<line x1="381.4" y1="16.10" x2="672.0" y2="16.10" stroke="#c4c4c4" stroke-width="1.3"/>
<line x1="381.4" y1="52.78" x2="672.0" y2="52.78" stroke="#c4c4c4" stroke-width="1.3"/>
<line x1="381.4" y1="89.47" x2="672.0" y2="89.47" stroke="#c4c4c4" stroke-width="1.3"/>
<line x1="381.4" y1="126.15" x2="672.0" y2="126.15" stroke="#c4c4c4" stroke-width="1.3"/>
<line x1="381.4" y1="162.83" x2="672.0" y2="162.83" stroke="#c4c4c4" stroke-width="1.3"/>
<line x1="381.4" y1="199.52" x2="672.0" y2="199.52" stroke="#c4c4c4" stroke-width="1.3"/>
<line x1="381.4" y1="236.20" x2="672.0" y2="236.20" stroke="#c4c4c4" stroke-width="1.3"/>
<line x1="381.4" y1="16.1" x2="672.0" y2="16.1" stroke="#c2c2c2" stroke-width="1.5"/>
<line x1="672.0" y1="16.1" x2="672.0" y2="236.2" stroke="#d2d2d2" stroke-width="2.0"/>
<line x1="381.4" y1="16.1" x2="381.4" y2="236.2" stroke="#5a5a5a" stroke-width="1.4"/>
<line x1="380.79999999999995" y1="236.2" x2="672.6" y2="236.2" stroke="#454545" stroke-width="1.3"/>
<line x1="381.40" y1="236.2" x2="381.40" y2="233.2" stroke="#454545" stroke-width="1"/>
<line x1="454.05" y1="236.2" x2="454.05" y2="233.2" stroke="#454545" stroke-width="1"/>
<line x1="526.70" y1="236.2" x2="526.70" y2="233.2" stroke="#454545" stroke-width="1"/>
<line x1="599.35" y1="236.2" x2="599.35" y2="233.2" stroke="#454545" stroke-width="1"/>
<line x1="672.00" y1="236.2" x2="672.00" y2="233.2" stroke="#454545" stroke-width="1"/>
<line x1="381.4" y1="16.10" x2="384.4" y2="16.10" stroke="#555" stroke-width="1"/>
<line x1="381.4" y1="52.78" x2="384.4" y2="52.78" stroke="#555" stroke-width="1"/>
<line x1="381.4" y1="89.47" x2="384.4" y2="89.47" stroke="#555" stroke-width="1"/>
<line x1="381.4" y1="126.15" x2="384.4" y2="126.15" stroke="#555" stroke-width="1"/>
<line x1="381.4" y1="162.83" x2="384.4" y2="162.83" stroke="#555" stroke-width="1"/>
<line x1="381.4" y1="199.52" x2="384.4" y2="199.52" stroke="#555" stroke-width="1"/>
<line x1="381.4" y1="236.20" x2="384.4" y2="236.20" stroke="#555" stroke-width="1"/>
<path d="M381.40,236.82 381.40,236.82 381.40,236.81 381.41,236.80 381.41,236.78 381.42,236.75 381.43,236.71 381.44,236.67 381.45,236.62 381.47,236.55 381.49,236.49 381.51,236.41 381.53,236.32 381.56,236.22 381.58,236.12 381.61,236.00 381.65,235.87 381.68,235.74 381.72,235.60 381.76,235.44 381.80,235.28 381.85,235.10 381.89,234.92 381.95,234.73 382.00,234.52 382.06,234.31 382.11,234.08 382.18,233.85 382.24,233.60 382.31,233.35 382.38,233.09 382.45,232.81 382.53,232.52 382.61,232.23 382.69,231.92 382.77,231.61 382.86,231.28 382.95,230.94 383.05,230.60 383.14,230.24 383.24,229.87 383.35,229.50 383.45,229.11 383.56,228.72 383.67,228.31 383.79,227.89 383.91,227.47 384.03,227.03 384.15,226.59 384.28,226.13 384.41,225.67 384.55,225.19 384.68,224.71 384.82,224.22 384.97,223.72 385.11,223.21 385.27,222.69 385.42,222.16 385.58,221.62 385.74,221.08 385.90,220.52 386.07,219.96 386.24,219.39 386.41,218.81 386.59,218.22 386.76,217.63 386.95,217.02 387.13,216.41 387.32,215.80 387.52,215.17 387.71,214.54 387.92,213.90 388.12,213.25 388.33,212.60 388.54,211.94 388.75,211.27 388.97,210.60 389.19,209.92 389.41,209.23 389.64,208.54 389.87,207.84 390.11,207.14 390.34,206.43 390.59,205.71 390.83,204.99 391.08,204.27 391.33,203.54 391.59,202.81 391.85,202.07 392.11,201.32 392.38,200.58 392.65,199.83 392.92,199.07 393.20,198.31 393.48,197.55 393.76,196.78 394.05,196.01 394.34,195.24 394.64,194.47 394.94,193.69 395.24,192.91 395.55,192.13 395.86,191.34 396.17,190.55 396.49,189.77 396.81,188.98 397.13,188.18 397.46,187.39 397.79,186.60 398.13,185.80 398.47,185.01 398.81,184.21 399.16,183.41 399.51,182.61 399.86,181.82 400.22,181.02 400.59,180.22 400.95,179.43 401.32,178.63 401.69,177.83 402.07,177.04 402.45,176.25 402.84,175.45 403.22,174.66 403.62,173.87 404.01,173.09 404.41,172.30 404.82,171.52 405.22,170.73 405.64,169.96 406.05,169.18 406.47,168.40 406.89,167.63 407.32,166.86 407.75,166.10 408.18,165.34 408.62,164.58 409.07,163.82 409.51,163.07 409.96,162.32 410.42,161.58 410.87,160.84 411.34,160.10 411.80,159.37 412.27,158.64 412.74,157.92 413.22,157.20 413.70,156.49 414.19,155.78 414.68,155.08 415.17,154.38 415.67,153.69 416.17,153.00 416.68,152.32 417.18,151.64 417.70,150.97 418.22,150.31 418.74,149.65 419.26,149.00 419.79,148.35 420.32,147.71 420.86,147.08 421.40,146.45 421.95,145.83 422.50,145.22 423.05,144.61 423.61,144.01 424.17,143.42 424.73,142.83 425.30,142.25 425.88,141.68 426.46,141.12 427.04,140.56 427.62,140.01 428.21,139.47 428.81,138.93 429.40,138.40 430.01,137.88 430.61,137.37 431.22,136.86 431.84,136.37 432.46,135.88 433.08,135.40 433.71,134.92 434.34,134.46 434.97,134.00 435.61,133.55 436.25,133.11 436.90,132.67 437.55,132.24 438.21,131.83 438.87,131.42 439.53,131.02 440.20,130.62 440.87,130.24 441.55,129.86 442.23,129.49 442.91,129.13 443.60,128.78 444.30,128.43 444.99,128.10 445.70,127.77 446.40,127.45 447.11,127.14 447.83,126.83 448.55,126.54 449.27,126.25 449.99,125.97 450.73,125.70 451.46,125.44 452.20,125.18 452.94,124.94 453.69,124.70 454.44,124.47 455.20,124.24 455.96,124.03 456.73,123.82 457.50,123.62 458.27,123.43 459.05,123.25 459.83,123.07 460.62,122.90 461.41,122.74 462.20,122.59 463.00,122.44 463.81,122.31 464.61,122.18 465.43,122.05 466.24,121.94 467.06,121.83 467.89,121.73 468.72,121.63 469.55,121.54 470.39,121.46 471.23,121.39 472.08,121.32 472.93,121.26 473.79,121.21 474.64,121.16 475.51,121.12 476.38,121.09 477.25,121.06 478.13,121.04 479.01,121.02 479.89,121.01 480.78,121.01 481.68,121.01 482.58,121.02 483.48,121.03 484.39,121.05 485.30,121.08 486.22,121.11 487.14,121.14 488.06,121.18 488.99,121.23 489.93,121.28 490.87,121.33 491.81,121.39 492.76,121.46 493.71,121.53 494.67,121.60 495.63,121.68 496.59,121.76 497.56,121.85 498.53,121.94 499.51,122.03 500.50,122.13 501.48,122.23 502.47,122.34 503.47,122.45 504.47,122.56 505.48,122.67 506.49,122.79 507.50,122.91 508.52,123.04 509.54,123.16 510.57,123.29 511.60,123.42 512.64,123.56 513.68,123.69 514.72,123.83 515.77,123.97 516.83,124.11 517.89,124.25 518.95,124.40 520.02,124.54 521.09,124.69 522.17,124.84 523.25,124.99 524.33,125.14 525.42,125.29 526.52,125.44 527.62,125.60 528.72,125.75 529.83,125.90 530.94,126.06 532.06,126.21 533.18,126.36 534.31,126.52 535.44,126.67 536.58,126.82 537.72,126.97 538.86,127.12 540.01,127.27 541.16,127.42 542.32,127.57 543.48,127.72 544.65,127.86 545.82,128.01 547.00,128.15 548.18,128.29 549.37,128.43 550.56,128.57 551.75,128.70 552.95,128.83 554.16,128.97 555.37,129.09 556.58,129.22 557.80,129.34 559.02,129.46 560.25,129.58 561.48,129.69 562.72,129.81 563.96,129.91 565.20,130.02 566.45,130.12 567.71,130.22 568.97,130.31 570.23,130.41 571.50,130.49 572.78,130.58 574.05,130.65 575.34,130.73 576.62,130.80 577.92,130.87 579.21,130.93 580.51,130.99 581.82,131.04 583.13,131.09 584.45,131.13 585.77,131.17 587.09,131.21 588.42,131.23 589.75,131.26 591.09,131.28 592.44,131.29 593.78,131.30 595.14,131.30 596.49,131.30 597.86,131.29 599.22,131.28 600.60,131.26 601.97,131.23 603.35,131.20 604.74,131.17 606.13,131.12 607.52,131.08 608.92,131.02 610.33,130.96 611.74,130.89 613.15,130.82 614.57,130.74 615.99,130.66 617.42,130.57 618.85,130.47 620.29,130.36 621.73,130.25 623.18,130.14 624.63,130.01 626.09,129.88 627.55,129.75 629.02,129.61 630.49,129.46 631.96,129.30 633.44,129.14 634.93,128.97 636.42,128.79 637.91,128.61 639.41,128.42 640.91,128.23 642.42,128.03 643.94,127.82 645.46,127.61 646.98,127.38 648.51,127.16 650.04,126.92 651.58,126.68 653.12,126.43 654.67,126.18 656.22,125.92 657.77,125.66 659.34,125.38 660.90,125.11 662.47,124.82 664.05,124.53 665.63,124.23 667.21,123.93 668.81,123.62 670.40,123.31 672.00,122.98" fill="none" stroke="#0072BD" stroke-width="2.1" stroke-linejoin="round" stroke-linecap="round" clip-path="url(#cb)"/>
<path d="M381.40,225.97 381.40,225.96 381.40,225.96 381.41,225.94 381.41,225.93 381.42,225.90 381.43,225.87 381.44,225.83 381.45,225.78 381.47,225.73 381.49,225.66 381.51,225.59 381.53,225.52 381.56,225.43 381.58,225.33 381.61,225.23 381.65,225.12 381.68,225.00 381.72,224.87 381.76,224.73 381.80,224.58 381.85,224.43 381.89,224.26 381.95,224.09 382.00,223.90 382.06,223.71 382.11,223.51 382.18,223.30 382.24,223.08 382.31,222.84 382.38,222.60 382.45,222.35 382.53,222.09 382.61,221.83 382.69,221.55 382.77,221.26 382.86,220.96 382.95,220.65 383.05,220.33 383.14,220.00 383.24,219.67 383.35,219.32 383.45,218.96 383.56,218.59 383.67,218.22 383.79,217.83 383.91,217.43 384.03,217.03 384.15,216.61 384.28,216.19 384.41,215.75 384.55,215.30 384.68,214.85 384.82,214.38 384.97,213.91 385.11,213.43 385.27,212.93 385.42,212.43 385.58,211.92 385.74,211.39 385.90,210.86 386.07,210.32 386.24,209.77 386.41,209.21 386.59,208.65 386.76,208.07 386.95,207.48 387.13,206.89 387.32,206.29 387.52,205.67 387.71,205.05 387.92,204.42 388.12,203.79 388.33,203.14 388.54,202.49 388.75,201.83 388.97,201.16 389.19,200.48 389.41,199.79 389.64,199.10 389.87,198.40 390.11,197.69 390.34,196.98 390.59,196.26 390.83,195.53 391.08,194.80 391.33,194.06 391.59,193.31 391.85,192.55 392.11,191.79 392.38,191.03 392.65,190.26 392.92,189.48 393.20,188.70 393.48,187.91 393.76,187.12 394.05,186.32 394.34,185.52 394.64,184.71 394.94,183.90 395.24,183.09 395.55,182.27 395.86,181.45 396.17,180.62 396.49,179.80 396.81,178.96 397.13,178.13 397.46,177.29 397.79,176.45 398.13,175.61 398.47,174.76 398.81,173.92 399.16,173.07 399.51,172.22 399.86,171.37 400.22,170.52 400.59,169.66 400.95,168.81 401.32,167.96 401.69,167.10 402.07,166.25 402.45,165.39 402.84,164.54 403.22,163.68 403.62,162.83 404.01,161.98 404.41,161.13 404.82,160.28 405.22,159.43 405.64,158.58 406.05,157.74 406.47,156.90 406.89,156.06 407.32,155.22 407.75,154.38 408.18,153.55 408.62,152.72 409.07,151.89 409.51,151.07 409.96,150.25 410.42,149.43 410.87,148.62 411.34,147.81 411.80,147.00 412.27,146.20 412.74,145.40 413.22,144.61 413.70,143.82 414.19,143.04 414.68,142.26 415.17,141.49 415.67,140.72 416.17,139.96 416.68,139.20 417.18,138.45 417.70,137.70 418.22,136.96 418.74,136.23 419.26,135.50 419.79,134.78 420.32,134.06 420.86,133.35 421.40,132.65 421.95,131.95 422.50,131.26 423.05,130.58 423.61,129.90 424.17,129.23 424.73,128.56 425.30,127.90 425.88,127.25 426.46,126.61 427.04,125.97 427.62,125.34 428.21,124.72 428.81,124.11 429.40,123.50 430.01,122.90 430.61,122.30 431.22,121.72 431.84,121.14 432.46,120.57 433.08,120.00 433.71,119.45 434.34,118.90 434.97,118.36 435.61,117.82 436.25,117.30 436.90,116.78 437.55,116.27 438.21,115.76 438.87,115.27 439.53,114.78 440.20,114.30 440.87,113.82 441.55,113.36 442.23,112.90 442.91,112.45 443.60,112.01 444.30,111.57 444.99,111.14 445.70,110.72 446.40,110.31 447.11,109.90 447.83,109.50 448.55,109.11 449.27,108.73 449.99,108.35 450.73,107.99 451.46,107.63 452.20,107.27 452.94,106.93 453.69,106.59 454.44,106.26 455.20,105.93 455.96,105.62 456.73,105.31 457.50,105.01 458.27,104.71 459.05,104.42 459.83,104.14 460.62,103.87 461.41,103.61 462.20,103.35 463.00,103.10 463.81,102.85 464.61,102.61 465.43,102.38 466.24,102.16 467.06,101.95 467.89,101.74 468.72,101.54 469.55,101.34 470.39,101.15 471.23,100.97 472.08,100.80 472.93,100.63 473.79,100.47 474.64,100.32 475.51,100.17 476.38,100.03 477.25,99.90 478.13,99.78 479.01,99.66 479.89,99.55 480.78,99.44 481.68,99.35 482.58,99.25 483.48,99.17 484.39,99.09 485.30,99.02 486.22,98.96 487.14,98.90 488.06,98.86 488.99,98.81 489.93,98.78 490.87,98.75 491.81,98.73 492.76,98.71 493.71,98.70 494.67,98.70 495.63,98.71 496.59,98.72 497.56,98.74 498.53,98.77 499.51,98.80 500.50,98.84 501.48,98.89 502.47,98.94 503.47,99.00 504.47,99.07 505.48,99.14 506.49,99.22 507.50,99.31 508.52,99.41 509.54,99.51 510.57,99.62 511.60,99.74 512.64,99.86 513.68,99.99 514.72,100.13 515.77,100.28 516.83,100.43 517.89,100.59 518.95,100.75 520.02,100.93 521.09,101.11 522.17,101.29 523.25,101.49 524.33,101.69 525.42,101.90 526.52,102.11 527.62,102.34 528.72,102.57 529.83,102.80 530.94,103.05 532.06,103.30 533.18,103.56 534.31,103.82 535.44,104.09 536.58,104.37 537.72,104.66 538.86,104.95 540.01,105.25 541.16,105.56 542.32,105.88 543.48,106.20 544.65,106.52 545.82,106.86 547.00,107.20 548.18,107.55 549.37,107.91 550.56,108.27 551.75,108.64 552.95,109.01 554.16,109.39 555.37,109.78 556.58,110.18 557.80,110.58 559.02,110.99 560.25,111.40 561.48,111.82 562.72,112.25 563.96,112.68 565.20,113.12 566.45,113.57 567.71,114.02 568.97,114.48 570.23,114.94 571.50,115.41 572.78,115.88 574.05,116.36 575.34,116.84 576.62,117.33 577.92,117.83 579.21,118.33 580.51,118.83 581.82,119.34 583.13,119.85 584.45,120.37 585.77,120.89 587.09,121.42 588.42,121.95 589.75,122.48 591.09,123.02 592.44,123.56 593.78,124.11 595.14,124.65 596.49,125.20 597.86,125.76 599.22,126.31 600.60,126.87 601.97,127.43 603.35,127.99 604.74,128.55 606.13,129.12 607.52,129.68 608.92,130.25 610.33,130.82 611.74,131.38 613.15,131.95 614.57,132.52 615.99,133.08 617.42,133.65 618.85,134.21 620.29,134.77 621.73,135.34 623.18,135.89 624.63,136.45 626.09,137.00 627.55,137.55 629.02,138.10 630.49,138.65 631.96,139.18 633.44,139.72 634.93,140.25 636.42,140.77 637.91,141.29 639.41,141.80 640.91,142.31 642.42,142.80 643.94,143.29 645.46,143.78 646.98,144.25 648.51,144.72 650.04,145.17 651.58,145.62 653.12,146.05 654.67,146.48 656.22,146.89 657.77,147.29 659.34,147.68 660.90,148.05 662.47,148.41 664.05,148.76 665.63,149.09 667.21,149.41 668.81,149.71 670.40,149.99 672.00,150.26" fill="none" stroke="#D95319" stroke-width="2.1" stroke-linejoin="round" stroke-linecap="round" clip-path="url(#cb)"/>
<path d="M381.40,219.48 381.40,219.48 381.40,219.47 381.41,219.46 381.41,219.44 381.42,219.42 381.43,219.38 381.44,219.34 381.45,219.29 381.47,219.24 381.49,219.18 381.51,219.10 381.53,219.02 381.56,218.93 381.58,218.84 381.61,218.73 381.65,218.62 381.68,218.49 381.72,218.36 381.76,218.22 381.80,218.07 381.85,217.91 381.89,217.74 381.95,217.56 382.00,217.37 382.06,217.17 382.11,216.96 382.18,216.75 382.24,216.52 382.31,216.28 382.38,216.04 382.45,215.78 382.53,215.51 382.61,215.24 382.69,214.95 382.77,214.65 382.86,214.35 382.95,214.03 383.05,213.70 383.14,213.37 383.24,213.02 383.35,212.66 383.45,212.29 383.56,211.92 383.67,211.53 383.79,211.13 383.91,210.72 384.03,210.30 384.15,209.87 384.28,209.44 384.41,208.99 384.55,208.53 384.68,208.06 384.82,207.58 384.97,207.09 385.11,206.59 385.27,206.08 385.42,205.56 385.58,205.03 385.74,204.50 385.90,203.95 386.07,203.39 386.24,202.82 386.41,202.25 386.59,201.66 386.76,201.06 386.95,200.46 387.13,199.84 387.32,199.22 387.52,198.59 387.71,197.94 387.92,197.29 388.12,196.63 388.33,195.97 388.54,195.29 388.75,194.60 388.97,193.91 389.19,193.21 389.41,192.50 389.64,191.78 389.87,191.06 390.11,190.32 390.34,189.58 390.59,188.84 390.83,188.08 391.08,187.32 391.33,186.55 391.59,185.78 391.85,184.99 392.11,184.20 392.38,183.41 392.65,182.61 392.92,181.80 393.20,180.99 393.48,180.17 393.76,179.35 394.05,178.52 394.34,177.69 394.64,176.85 394.94,176.01 395.24,175.16 395.55,174.31 395.86,173.45 396.17,172.59 396.49,171.73 396.81,170.87 397.13,170.00 397.46,169.12 397.79,168.25 398.13,167.37 398.47,166.49 398.81,165.61 399.16,164.73 399.51,163.84 399.86,162.96 400.22,162.07 400.59,161.18 400.95,160.29 401.32,159.40 401.69,158.51 402.07,157.61 402.45,156.72 402.84,155.83 403.22,154.94 403.62,154.05 404.01,153.16 404.41,152.27 404.82,151.38 405.22,150.50 405.64,149.61 406.05,148.73 406.47,147.85 406.89,146.97 407.32,146.09 407.75,145.22 408.18,144.34 408.62,143.47 409.07,142.61 409.51,141.74 409.96,140.88 410.42,140.03 410.87,139.18 411.34,138.33 411.80,137.48 412.27,136.64 412.74,135.80 413.22,134.97 413.70,134.14 414.19,133.32 414.68,132.50 415.17,131.69 415.67,130.88 416.17,130.08 416.68,129.28 417.18,128.49 417.70,127.70 418.22,126.92 418.74,126.14 419.26,125.37 419.79,124.60 420.32,123.85 420.86,123.09 421.40,122.35 421.95,121.61 422.50,120.87 423.05,120.14 423.61,119.42 424.17,118.71 424.73,118.00 425.30,117.29 425.88,116.60 426.46,115.91 427.04,115.23 427.62,114.55 428.21,113.88 428.81,113.22 429.40,112.57 430.01,111.92 430.61,111.28 431.22,110.64 431.84,110.01 432.46,109.39 433.08,108.78 433.71,108.17 434.34,107.57 434.97,106.98 435.61,106.39 436.25,105.81 436.90,105.24 437.55,104.67 438.21,104.11 438.87,103.56 439.53,103.02 440.20,102.48 440.87,101.95 441.55,101.42 442.23,100.90 442.91,100.39 443.60,99.89 444.30,99.39 444.99,98.90 445.70,98.42 446.40,97.94 447.11,97.47 447.83,97.01 448.55,96.55 449.27,96.10 449.99,95.65 450.73,95.22 451.46,94.79 452.20,94.36 452.94,93.94 453.69,93.53 454.44,93.13 455.20,92.73 455.96,92.33 456.73,91.95 457.50,91.57 458.27,91.19 459.05,90.82 459.83,90.46 460.62,90.11 461.41,89.76 462.20,89.41 463.00,89.08 463.81,88.75 464.61,88.42 465.43,88.10 466.24,87.79 467.06,87.48 467.89,87.18 468.72,86.88 469.55,86.59 470.39,86.31 471.23,86.03 472.08,85.76 472.93,85.50 473.79,85.24 474.64,84.98 475.51,84.73 476.38,84.49 477.25,84.25 478.13,84.02 479.01,83.80 479.89,83.58 480.78,83.37 481.68,83.16 482.58,82.96 483.48,82.76 484.39,82.57 485.30,82.39 486.22,82.21 487.14,82.04 488.06,81.87 488.99,81.71 489.93,81.56 490.87,81.41 491.81,81.27 492.76,81.13 493.71,81.00 494.67,80.88 495.63,80.76 496.59,80.65 497.56,80.54 498.53,80.45 499.51,80.35 500.50,80.27 501.48,80.19 502.47,80.11 503.47,80.05 504.47,79.99 505.48,79.93 506.49,79.89 507.50,79.85 508.52,79.81 509.54,79.79 510.57,79.77 511.60,79.75 512.64,79.75 513.68,79.75 514.72,79.76 515.77,79.77 516.83,79.79 517.89,79.82 518.95,79.86 520.02,79.90 521.09,79.95 522.17,80.01 523.25,80.08 524.33,80.15 525.42,80.24 526.52,80.33 527.62,80.42 528.72,80.53 529.83,80.64 530.94,80.76 532.06,80.89 533.18,81.03 534.31,81.18 535.44,81.33 536.58,81.49 537.72,81.66 538.86,81.84 540.01,82.03 541.16,82.22 542.32,82.43 543.48,82.64 544.65,82.86 545.82,83.09 547.00,83.33 548.18,83.58 549.37,83.84 550.56,84.11 551.75,84.38 552.95,84.67 554.16,84.96 555.37,85.26 556.58,85.57 557.80,85.90 559.02,86.23 560.25,86.57 561.48,86.92 562.72,87.27 563.96,87.64 565.20,88.02 566.45,88.41 567.71,88.80 568.97,89.21 570.23,89.63 571.50,90.05 572.78,90.49 574.05,90.93 575.34,91.39 576.62,91.85 577.92,92.32 579.21,92.81 580.51,93.30 581.82,93.80 583.13,94.31 584.45,94.83 585.77,95.36 587.09,95.90 588.42,96.45 589.75,97.01 591.09,97.58 592.44,98.16 593.78,98.75 595.14,99.34 596.49,99.95 597.86,100.56 599.22,101.19 600.60,101.82 601.97,102.46 603.35,103.11 604.74,103.77 606.13,104.44 607.52,105.12 608.92,105.80 610.33,106.50 611.74,107.20 613.15,107.91 614.57,108.62 615.99,109.35 617.42,110.08 618.85,110.82 620.29,111.57 621.73,112.33 623.18,113.09 624.63,113.86 626.09,114.64 627.55,115.42 629.02,116.21 630.49,117.00 631.96,117.81 633.44,118.61 634.93,119.43 636.42,120.24 637.91,121.07 639.41,121.90 640.91,122.73 642.42,123.57 643.94,124.41 645.46,125.25 646.98,126.10 648.51,126.95 650.04,127.81 651.58,128.67 653.12,129.53 654.67,130.39 656.22,131.25 657.77,132.12 659.34,132.98 660.90,133.85 662.47,134.72 664.05,135.58 665.63,136.45 667.21,137.32 668.81,138.18 670.40,139.04 672.00,139.90" fill="none" stroke="#EDB120" stroke-width="2.1" stroke-linejoin="round" stroke-linecap="round" clip-path="url(#cb)"/>
<path d="M381.40,214.21 381.40,214.21 381.40,214.20 381.41,214.19 381.41,214.16 381.42,214.13 381.43,214.09 381.44,214.05 381.45,213.99 381.47,213.92 381.49,213.85 381.51,213.76 381.53,213.67 381.56,213.56 381.58,213.45 381.61,213.32 381.65,213.19 381.68,213.04 381.72,212.88 381.76,212.72 381.80,212.54 381.85,212.35 381.89,212.15 381.95,211.94 382.00,211.72 382.06,211.49 382.11,211.25 382.18,210.99 382.24,210.73 382.31,210.45 382.38,210.16 382.45,209.87 382.53,209.56 382.61,209.24 382.69,208.91 382.77,208.56 382.86,208.21 382.95,207.84 383.05,207.47 383.14,207.08 383.24,206.69 383.35,206.28 383.45,205.86 383.56,205.43 383.67,204.99 383.79,204.54 383.91,204.07 384.03,203.60 384.15,203.12 384.28,202.62 384.41,202.12 384.55,201.61 384.68,201.08 384.82,200.55 384.97,200.00 385.11,199.45 385.27,198.89 385.42,198.31 385.58,197.73 385.74,197.14 385.90,196.54 386.07,195.92 386.24,195.30 386.41,194.68 386.59,194.04 386.76,193.39 386.95,192.74 387.13,192.07 387.32,191.40 387.52,190.72 387.71,190.03 387.92,189.34 388.12,188.63 388.33,187.92 388.54,187.20 388.75,186.48 388.97,185.74 389.19,185.00 389.41,184.26 389.64,183.50 389.87,182.74 390.11,181.98 390.34,181.20 390.59,180.43 390.83,179.64 391.08,178.85 391.33,178.06 391.59,177.26 391.85,176.45 392.11,175.64 392.38,174.83 392.65,174.01 392.92,173.18 393.20,172.35 393.48,171.52 393.76,170.68 394.05,169.84 394.34,169.00 394.64,168.15 394.94,167.30 395.24,166.45 395.55,165.59 395.86,164.73 396.17,163.87 396.49,163.01 396.81,162.14 397.13,161.27 397.46,160.40 397.79,159.53 398.13,158.66 398.47,157.78 398.81,156.91 399.16,156.03 399.51,155.15 399.86,154.28 400.22,153.40 400.59,152.52 400.95,151.64 401.32,150.76 401.69,149.88 402.07,149.00 402.45,148.12 402.84,147.25 403.22,146.37 403.62,145.49 404.01,144.62 404.41,143.74 404.82,142.87 405.22,142.00 405.64,141.13 406.05,140.26 406.47,139.40 406.89,138.53 407.32,137.67 407.75,136.81 408.18,135.95 408.62,135.10 409.07,134.24 409.51,133.39 409.96,132.55 410.42,131.70 410.87,130.86 411.34,130.02 411.80,129.19 412.27,128.36 412.74,127.53 413.22,126.70 413.70,125.88 414.19,125.06 414.68,124.25 415.17,123.44 415.67,122.63 416.17,121.83 416.68,121.03 417.18,120.24 417.70,119.45 418.22,118.67 418.74,117.89 419.26,117.11 419.79,116.34 420.32,115.57 420.86,114.81 421.40,114.05 421.95,113.30 422.50,112.55 423.05,111.81 423.61,111.07 424.17,110.33 424.73,109.60 425.30,108.88 425.88,108.16 426.46,107.45 427.04,106.74 427.62,106.04 428.21,105.34 428.81,104.65 429.40,103.96 430.01,103.28 430.61,102.60 431.22,101.93 431.84,101.27 432.46,100.60 433.08,99.95 433.71,99.30 434.34,98.66 434.97,98.02 435.61,97.38 436.25,96.76 436.90,96.13 437.55,95.52 438.21,94.91 438.87,94.30 439.53,93.70 440.20,93.11 440.87,92.52 441.55,91.94 442.23,91.36 442.91,90.79 443.60,90.22 444.30,89.66 444.99,89.10 445.70,88.55 446.40,88.01 447.11,87.47 447.83,86.94 448.55,86.41 449.27,85.89 449.99,85.37 450.73,84.86 451.46,84.36 452.20,83.86 452.94,83.36 453.69,82.88 454.44,82.39 455.20,81.92 455.96,81.45 456.73,80.98 457.50,80.52 458.27,80.06 459.05,79.62 459.83,79.17 460.62,78.73 461.41,78.30 462.20,77.87 463.00,77.45 463.81,77.04 464.61,76.63 465.43,76.22 466.24,75.82 467.06,75.43 467.89,75.04 468.72,74.66 469.55,74.28 470.39,73.91 471.23,73.54 472.08,73.18 472.93,72.83 473.79,72.48 474.64,72.13 475.51,71.80 476.38,71.46 477.25,71.14 478.13,70.82 479.01,70.50 479.89,70.19 480.78,69.89 481.68,69.59 482.58,69.29 483.48,69.01 484.39,68.72 485.30,68.45 486.22,68.18 487.14,67.91 488.06,67.65 488.99,67.40 489.93,67.15 490.87,66.91 491.81,66.67 492.76,66.44 493.71,66.22 494.67,66.00 495.63,65.79 496.59,65.58 497.56,65.38 498.53,65.19 499.51,65.00 500.50,64.82 501.48,64.64 502.47,64.47 503.47,64.31 504.47,64.15 505.48,64.00 506.49,63.85 507.50,63.71 508.52,63.58 509.54,63.45 510.57,63.33 511.60,63.22 512.64,63.11 513.68,63.01 514.72,62.91 515.77,62.83 516.83,62.74 517.89,62.67 518.95,62.60 520.02,62.54 521.09,62.49 522.17,62.44 523.25,62.40 524.33,62.36 525.42,62.34 526.52,62.32 527.62,62.31 528.72,62.30 529.83,62.30 530.94,62.31 532.06,62.33 533.18,62.35 534.31,62.38 535.44,62.42 536.58,62.47 537.72,62.52 538.86,62.58 540.01,62.65 541.16,62.73 542.32,62.82 543.48,62.91 544.65,63.01 545.82,63.12 547.00,63.24 548.18,63.36 549.37,63.49 550.56,63.64 551.75,63.79 552.95,63.95 554.16,64.11 555.37,64.29 556.58,64.47 557.80,64.67 559.02,64.87 560.25,65.08 561.48,65.30 562.72,65.53 563.96,65.77 565.20,66.01 566.45,66.27 567.71,66.53 568.97,66.81 570.23,67.09 571.50,67.39 572.78,67.69 574.05,68.00 575.34,68.33 576.62,68.66 577.92,69.00 579.21,69.35 580.51,69.72 581.82,70.09 583.13,70.47 584.45,70.87 585.77,71.27 587.09,71.68 588.42,72.11 589.75,72.54 591.09,72.99 592.44,73.45 593.78,73.91 595.14,74.39 596.49,74.88 597.86,75.38 599.22,75.89 600.60,76.42 601.97,76.95 603.35,77.50 604.74,78.06 606.13,78.62 607.52,79.20 608.92,79.80 610.33,80.40 611.74,81.02 613.15,81.64 614.57,82.28 615.99,82.94 617.42,83.60 618.85,84.28 620.29,84.97 621.73,85.67 623.18,86.38 624.63,87.11 626.09,87.85 627.55,88.60 629.02,89.36 630.49,90.14 631.96,90.93 633.44,91.74 634.93,92.55 636.42,93.38 637.91,94.23 639.41,95.08 640.91,95.96 642.42,96.84 643.94,97.74 645.46,98.65 646.98,99.57 648.51,100.51 650.04,101.47 651.58,102.43 653.12,103.41 654.67,104.41 656.22,105.42 657.77,106.44 659.34,107.48 660.90,108.53 662.47,109.60 664.05,110.68 665.63,111.78 667.21,112.89 668.81,114.01 670.40,115.15 672.00,116.31" fill="none" stroke="#7E2F8E" stroke-width="2.1" stroke-linejoin="round" stroke-linecap="round" clip-path="url(#cb)"/>
<path d="M381.40,205.01 381.40,205.01 381.40,205.00 381.41,204.99 381.41,204.96 381.42,204.93 381.43,204.89 381.44,204.84 381.45,204.78 381.47,204.72 381.49,204.64 381.51,204.55 381.53,204.45 381.56,204.35 381.58,204.23 381.61,204.10 381.65,203.96 381.68,203.81 381.72,203.65 381.76,203.48 381.80,203.30 381.85,203.11 381.89,202.90 381.95,202.69 382.00,202.46 382.06,202.23 382.11,201.98 382.18,201.72 382.24,201.45 382.31,201.17 382.38,200.87 382.45,200.57 382.53,200.25 382.61,199.93 382.69,199.59 382.77,199.24 382.86,198.88 382.95,198.51 383.05,198.13 383.14,197.73 383.24,197.33 383.35,196.92 383.45,196.49 383.56,196.05 383.67,195.61 383.79,195.15 383.91,194.68 384.03,194.20 384.15,193.71 384.28,193.22 384.41,192.71 384.55,192.19 384.68,191.66 384.82,191.12 384.97,190.57 385.11,190.01 385.27,189.45 385.42,188.87 385.58,188.28 385.74,187.69 385.90,187.08 386.07,186.47 386.24,185.85 386.41,185.22 386.59,184.58 386.76,183.93 386.95,183.27 387.13,182.61 387.32,181.94 387.52,181.26 387.71,180.57 387.92,179.88 388.12,179.18 388.33,178.47 388.54,177.75 388.75,177.03 388.97,176.30 389.19,175.56 389.41,174.82 389.64,174.07 389.87,173.32 390.11,172.56 390.34,171.79 390.59,171.02 390.83,170.24 391.08,169.46 391.33,168.67 391.59,167.88 391.85,167.08 392.11,166.28 392.38,165.48 392.65,164.67 392.92,163.85 393.20,163.03 393.48,162.21 393.76,161.38 394.05,160.55 394.34,159.72 394.64,158.88 394.94,158.04 395.24,157.20 395.55,156.36 395.86,155.51 396.17,154.66 396.49,153.81 396.81,152.95 397.13,152.09 397.46,151.24 397.79,150.37 398.13,149.51 398.47,148.65 398.81,147.78 399.16,146.92 399.51,146.05 399.86,145.18 400.22,144.31 400.59,143.44 400.95,142.57 401.32,141.70 401.69,140.83 402.07,139.96 402.45,139.09 402.84,138.22 403.22,137.35 403.62,136.48 404.01,135.61 404.41,134.74 404.82,133.87 405.22,133.00 405.64,132.14 406.05,131.27 406.47,130.41 406.89,129.54 407.32,128.68 407.75,127.82 408.18,126.96 408.62,126.10 409.07,125.25 409.51,124.39 409.96,123.54 410.42,122.69 410.87,121.84 411.34,120.99 411.80,120.15 412.27,119.31 412.74,118.47 413.22,117.63 413.70,116.80 414.19,115.97 414.68,115.14 415.17,114.31 415.67,113.49 416.17,112.67 416.68,111.85 417.18,111.04 417.70,110.23 418.22,109.42 418.74,108.62 419.26,107.82 419.79,107.02 420.32,106.23 420.86,105.44 421.40,104.65 421.95,103.87 422.50,103.09 423.05,102.31 423.61,101.54 424.17,100.77 424.73,100.01 425.30,99.25 425.88,98.49 426.46,97.74 427.04,97.00 427.62,96.25 428.21,95.51 428.81,94.78 429.40,94.05 430.01,93.32 430.61,92.60 431.22,91.89 431.84,91.17 432.46,90.47 433.08,89.76 433.71,89.07 434.34,88.37 434.97,87.68 435.61,87.00 436.25,86.32 436.90,85.65 437.55,84.98 438.21,84.31 438.87,83.65 439.53,83.00 440.20,82.35 440.87,81.70 441.55,81.06 442.23,80.43 442.91,79.80 443.60,79.17 444.30,78.55 444.99,77.94 445.70,77.33 446.40,76.73 447.11,76.13 447.83,75.53 448.55,74.95 449.27,74.36 449.99,73.79 450.73,73.21 451.46,72.65 452.20,72.09 452.94,71.53 453.69,70.98 454.44,70.43 455.20,69.89 455.96,69.36 456.73,68.83 457.50,68.31 458.27,67.79 459.05,67.28 459.83,66.77 460.62,66.27 461.41,65.77 462.20,65.28 463.00,64.80 463.81,64.32 464.61,63.84 465.43,63.37 466.24,62.91 467.06,62.45 467.89,62.00 468.72,61.56 469.55,61.12 470.39,60.68 471.23,60.25 472.08,59.83 472.93,59.41 473.79,59.00 474.64,58.59 475.51,58.19 476.38,57.80 477.25,57.41 478.13,57.02 479.01,56.64 479.89,56.27 480.78,55.90 481.68,55.54 482.58,55.18 483.48,54.83 484.39,54.49 485.30,54.15 486.22,53.82 487.14,53.49 488.06,53.17 488.99,52.85 489.93,52.54 490.87,52.24 491.81,51.94 492.76,51.64 493.71,51.36 494.67,51.07 495.63,50.80 496.59,50.53 497.56,50.26 498.53,50.00 499.51,49.75 500.50,49.50 501.48,49.26 502.47,49.02 503.47,48.79 504.47,48.57 505.48,48.35 506.49,48.14 507.50,47.93 508.52,47.73 509.54,47.53 510.57,47.34 511.60,47.16 512.64,46.98 513.68,46.81 514.72,46.64 515.77,46.48 516.83,46.33 517.89,46.18 518.95,46.04 520.02,45.90 521.09,45.77 522.17,45.65 523.25,45.53 524.33,45.42 525.42,45.31 526.52,45.21 527.62,45.12 528.72,45.03 529.83,44.95 530.94,44.88 532.06,44.81 533.18,44.75 534.31,44.69 535.44,44.65 536.58,44.60 537.72,44.57 538.86,44.54 540.01,44.52 541.16,44.50 542.32,44.50 543.48,44.49 544.65,44.50 545.82,44.51 547.00,44.53 548.18,44.56 549.37,44.59 550.56,44.63 551.75,44.68 552.95,44.74 554.16,44.80 555.37,44.87 556.58,44.95 557.80,45.03 559.02,45.13 560.25,45.23 561.48,45.34 562.72,45.46 563.96,45.58 565.20,45.72 566.45,45.86 567.71,46.01 568.97,46.17 570.23,46.33 571.50,46.51 572.78,46.70 574.05,46.89 575.34,47.09 576.62,47.31 577.92,47.53 579.21,47.76 580.51,48.00 581.82,48.25 583.13,48.51 584.45,48.78 585.77,49.06 587.09,49.35 588.42,49.65 589.75,49.97 591.09,50.29 592.44,50.62 593.78,50.97 595.14,51.32 596.49,51.69 597.86,52.07 599.22,52.46 600.60,52.86 601.97,53.28 603.35,53.70 604.74,54.14 606.13,54.59 607.52,55.06 608.92,55.54 610.33,56.03 611.74,56.53 613.15,57.05 614.57,57.59 615.99,58.13 617.42,58.69 618.85,59.27 620.29,59.86 621.73,60.47 623.18,61.09 624.63,61.73 626.09,62.38 627.55,63.05 629.02,63.73 630.49,64.44 631.96,65.16 633.44,65.89 634.93,66.65 636.42,67.42 637.91,68.21 639.41,69.02 640.91,69.84 642.42,70.69 643.94,71.56 645.46,72.44 646.98,73.35 648.51,74.27 650.04,75.22 651.58,76.19 653.12,77.17 654.67,78.19 656.22,79.22 657.77,80.27 659.34,81.35 660.90,82.45 662.47,83.57 664.05,84.72 665.63,85.90 667.21,87.09 668.81,88.31 670.40,89.56 672.00,90.84" fill="none" stroke="#77AC30" stroke-width="2.1" stroke-linejoin="round" stroke-linecap="round" clip-path="url(#cb)"/>
<rect x="586.2" y="145.7" width="73.5" height="76.80000000000001" fill="#fff" stroke="#3c3c3c" stroke-width="1"/>
<line x1="589.3" y1="154.4" x2="608.7" y2="154.4" stroke="#0072BD" stroke-width="2.1"/>
<text y="158.4" font-family="'Liberation Sans', sans-serif" font-size="10.4" fill="#000"><tspan x="610.9">d</tspan><tspan x="620.6">=</tspan><tspan x="630.0">0.3</tspan><tspan x="648.2">&#923;</tspan></text>
<line x1="589.3" y1="169.4" x2="608.7" y2="169.4" stroke="#D95319" stroke-width="2.1"/>
<text y="173.4" font-family="'Liberation Sans', sans-serif" font-size="10.4" fill="#000"><tspan x="610.9">d</tspan><tspan x="620.6">=</tspan><tspan x="630.0">0.4</tspan><tspan x="648.2">&#923;</tspan></text>
<line x1="589.3" y1="184.1" x2="608.7" y2="184.1" stroke="#EDB120" stroke-width="2.1"/>
<text y="188.1" font-family="'Liberation Sans', sans-serif" font-size="10.4" fill="#000"><tspan x="610.9">d</tspan><tspan x="620.6">=</tspan><tspan x="630.0">0.5</tspan><tspan x="648.2">&#923;</tspan></text>
<line x1="589.3" y1="198.9" x2="608.7" y2="198.9" stroke="#7E2F8E" stroke-width="2.1"/>
<text y="202.9" font-family="'Liberation Sans', sans-serif" font-size="10.4" fill="#000"><tspan x="610.9">d</tspan><tspan x="620.6">=</tspan><tspan x="630.0">0.6</tspan><tspan x="648.2">&#923;</tspan></text>
<line x1="589.3" y1="213.9" x2="608.7" y2="213.9" stroke="#77AC30" stroke-width="2.1"/>
<text y="217.9" font-family="'Liberation Sans', sans-serif" font-size="10.4" fill="#000"><tspan x="610.9">d</tspan><tspan x="620.6">=</tspan><tspan x="630.0">0.7</tspan><tspan x="648.2">&#923;</tspan></text>
<text x="526.8" y="10.5" font-family="'Liberation Sans', sans-serif" font-size="13" font-weight="bold" text-anchor="middle" fill="#000" textLength="70.5" lengthAdjust="spacing">Dispersion</text>
<text x="376.6" y="20.8" font-family="'Liberation Sans', sans-serif" font-size="12" font-weight="normal" text-anchor="end" fill="#000">2</text>
<text x="376.6" y="57.483333333333334" font-family="'Liberation Sans', sans-serif" font-size="12" font-weight="normal" text-anchor="end" fill="#000">1</text>
<text x="376.6" y="94.16666666666667" font-family="'Liberation Sans', sans-serif" font-size="12" font-weight="normal" text-anchor="end" fill="#000">0</text>
<text x="376.6" y="130.85" font-family="'Liberation Sans', sans-serif" font-size="12" font-weight="normal" text-anchor="end" fill="#000">-1</text>
<text x="376.6" y="167.5333333333333" font-family="'Liberation Sans', sans-serif" font-size="12" font-weight="normal" text-anchor="end" fill="#000">-2</text>
<text x="376.6" y="204.21666666666664" font-family="'Liberation Sans', sans-serif" font-size="12" font-weight="normal" text-anchor="end" fill="#000">-3</text>
<text x="376.6" y="240.89999999999998" font-family="'Liberation Sans', sans-serif" font-size="12" font-weight="normal" text-anchor="end" fill="#000">-4</text>
<text x="381.4" y="253.5" font-family="'Liberation Sans', sans-serif" font-size="12.4" font-weight="normal" text-anchor="middle" fill="#000">2000</text>
<text x="454.04999999999995" y="253.5" font-family="'Liberation Sans', sans-serif" font-size="12.4" font-weight="normal" text-anchor="middle" fill="#000">3000</text>
<text x="526.7" y="253.5" font-family="'Liberation Sans', sans-serif" font-size="12.4" font-weight="normal" text-anchor="middle" fill="#000">4000</text>
<text x="599.35" y="253.5" font-family="'Liberation Sans', sans-serif" font-size="12.4" font-weight="normal" text-anchor="middle" fill="#000">5000</text>
<text x="672.0" y="253.5" font-family="'Liberation Sans', sans-serif" font-size="12.4" font-weight="normal" text-anchor="middle" fill="#000">6000</text>
<text x="525.9" y="271.4" font-family="'Liberation Sans', sans-serif" font-size="13" font-weight="normal" text-anchor="middle" fill="#000" textLength="104.5" lengthAdjust="spacing">Wavelength, [nm]</text>
<text x="359.6" y="126.5" font-family="'Liberation Sans', sans-serif" font-size="13" font-weight="normal" text-anchor="middle" fill="#000" textLength="139.5" lengthAdjust="spacing" transform="rotate(-90 359.6 126.5)">Dispersion, [ps/nm.km]</text>
<text x="531" y="291.6" font-family="'Liberation Serif', serif" font-size="16" font-weight="bold" text-anchor="middle" fill="#000">(b)</text>
<text x="382.2" y="13.6" font-family="'Liberation Sans', sans-serif" font-size="12.5" font-weight="normal" text-anchor="start" fill="#000">&#215;</text>
<text x="390.4" y="12.6" font-family="'Liberation Sans', sans-serif" font-size="12" font-weight="normal" text-anchor="start" fill="#000">10</text>
<text x="404.0" y="6.7" font-family="'Liberation Sans', sans-serif" font-size="9.6" font-weight="normal" text-anchor="start" fill="#000">-4</text>
<line x1="252.74" y1="338.6" x2="252.74" y2="565.3" stroke="#c4c4c4" stroke-width="1.3"/>
<line x1="318.63" y1="338.6" x2="318.63" y2="565.3" stroke="#c4c4c4" stroke-width="1.3"/>
<line x1="384.52" y1="338.6" x2="384.52" y2="565.3" stroke="#c4c4c4" stroke-width="1.3"/>
<line x1="450.41" y1="338.6" x2="450.41" y2="565.3" stroke="#c4c4c4" stroke-width="1.3"/>
<line x1="516.30" y1="338.6" x2="516.30" y2="565.3" stroke="#c4c4c4" stroke-width="1.3"/>
<line x1="219.8" y1="565.30" x2="516.3" y2="565.30" stroke="#c4c4c4" stroke-width="1.3"/>
<line x1="219.8" y1="519.96" x2="516.3" y2="519.96" stroke="#c4c4c4" stroke-width="1.3"/>
<line x1="219.8" y1="474.62" x2="516.3" y2="474.62" stroke="#c4c4c4" stroke-width="1.3"/>
<line x1="219.8" y1="429.28" x2="516.3" y2="429.28" stroke="#c4c4c4" stroke-width="1.3"/>
<line x1="219.8" y1="383.94" x2="516.3" y2="383.94" stroke="#c4c4c4" stroke-width="1.3"/>
<line x1="219.8" y1="338.60" x2="516.3" y2="338.60" stroke="#c4c4c4" stroke-width="1.3"/>
<line x1="219.8" y1="338.6" x2="516.3" y2="338.6" stroke="#3a3a3a" stroke-width="1.3"/>
<line x1="516.3" y1="338.6" x2="516.3" y2="565.3" stroke="#9a9a9a" stroke-width="1.4"/>
<line x1="219.8" y1="338.6" x2="219.8" y2="565.3" stroke="#b4b4b4" stroke-width="1.8"/>
<line x1="219.20000000000002" y1="565.3" x2="516.9" y2="565.3" stroke="#454545" stroke-width="1.3"/>
<line x1="252.74" y1="565.3" x2="252.74" y2="562.3" stroke="#454545" stroke-width="1"/>
<line x1="318.63" y1="565.3" x2="318.63" y2="562.3" stroke="#454545" stroke-width="1"/>
<line x1="384.52" y1="565.3" x2="384.52" y2="562.3" stroke="#454545" stroke-width="1"/>
<line x1="450.41" y1="565.3" x2="450.41" y2="562.3" stroke="#454545" stroke-width="1"/>
<line x1="516.30" y1="565.3" x2="516.30" y2="562.3" stroke="#454545" stroke-width="1"/>
<line x1="219.8" y1="565.30" x2="222.8" y2="565.30" stroke="#555" stroke-width="1"/>
<line x1="219.8" y1="519.96" x2="222.8" y2="519.96" stroke="#555" stroke-width="1"/>
<line x1="219.8" y1="474.62" x2="222.8" y2="474.62" stroke="#555" stroke-width="1"/>
<line x1="219.8" y1="429.28" x2="222.8" y2="429.28" stroke="#555" stroke-width="1"/>
<line x1="219.8" y1="383.94" x2="222.8" y2="383.94" stroke="#555" stroke-width="1"/>
<line x1="219.8" y1="338.60" x2="222.8" y2="338.60" stroke="#555" stroke-width="1"/>
<line x1="252.74" y1="338.6" x2="252.74" y2="341.6" stroke="#555" stroke-width="1"/>
<line x1="318.63" y1="338.6" x2="318.63" y2="341.6" stroke="#555" stroke-width="1"/>
<line x1="384.52" y1="338.6" x2="384.52" y2="341.6" stroke="#555" stroke-width="1"/>
<line x1="450.41" y1="338.6" x2="450.41" y2="341.6" stroke="#555" stroke-width="1"/>
<line x1="516.30" y1="338.6" x2="516.30" y2="341.6" stroke="#555" stroke-width="1"/>
<line x1="516.3" y1="565.30" x2="513.3" y2="565.30" stroke="#666" stroke-width="1"/>
<line x1="516.3" y1="519.96" x2="513.3" y2="519.96" stroke="#666" stroke-width="1"/>
<line x1="516.3" y1="474.62" x2="513.3" y2="474.62" stroke="#666" stroke-width="1"/>
<line x1="516.3" y1="429.28" x2="513.3" y2="429.28" stroke="#666" stroke-width="1"/>
<line x1="516.3" y1="383.94" x2="513.3" y2="383.94" stroke="#666" stroke-width="1"/>
<line x1="516.3" y1="338.60" x2="513.3" y2="338.60" stroke="#666" stroke-width="1"/>
<path d="M219.80,434.54 220.54,435.72 221.29,436.88 222.03,438.02 222.77,439.15 223.52,440.26 224.26,441.36 225.00,442.44 225.74,443.51 226.49,444.56 227.23,445.60 227.97,446.63 228.72,447.64 229.46,448.64 230.20,449.62 230.95,450.60 231.69,451.56 232.43,452.50 233.18,453.44 233.92,454.36 234.66,455.28 235.41,456.18 236.15,457.07 236.89,457.95 237.63,458.81 238.38,459.67 239.12,460.52 239.86,461.36 240.61,462.18 241.35,463.00 242.09,463.81 242.84,464.61 243.58,465.40 244.32,466.18 245.07,466.95 245.81,467.71 246.55,468.47 247.29,469.21 248.04,469.95 248.78,470.68 249.52,471.40 250.27,472.12 251.01,472.82 251.75,473.52 252.50,474.21 253.24,474.90 253.98,475.57 254.73,476.24 255.47,476.90 256.21,477.56 256.96,478.21 257.70,478.85 258.44,479.48 259.18,480.11 259.93,480.73 260.67,481.35 261.41,481.96 262.16,482.56 262.90,483.16 263.64,483.75 264.39,484.34 265.13,484.92 265.87,485.49 266.62,486.06 267.36,486.63 268.10,487.18 268.85,487.74 269.59,488.28 270.33,488.83 271.07,489.36 271.82,489.90 272.56,490.42 273.30,490.95 274.05,491.46 274.79,491.98 275.53,492.49 276.28,492.99 277.02,493.49 277.76,493.98 278.51,494.47 279.25,494.96 279.99,495.44 280.73,495.92 281.48,496.39 282.22,496.86 282.96,497.33 283.71,497.79 284.45,498.25 285.19,498.70 285.94,499.15 286.68,499.59 287.42,500.03 288.17,500.47 288.91,500.91 289.65,501.34 290.40,501.76 291.14,502.19 291.88,502.61 292.62,503.03 293.37,503.44 294.11,503.85 294.85,504.25 295.60,504.66 296.34,505.06 297.08,505.46 297.83,505.85 298.57,506.24 299.31,506.63 300.06,507.01 300.80,507.39 301.54,507.77 302.28,508.15 303.03,508.52 303.77,508.89 304.51,509.26 305.26,509.62 306.00,509.98 306.74,510.34 307.49,510.70 308.23,511.05 308.97,511.40 309.72,511.75 310.46,512.09 311.20,512.44 311.95,512.78 312.69,513.11 313.43,513.45 314.17,513.78 314.92,514.11 315.66,514.44 316.40,514.77 317.15,515.09 317.89,515.41 318.63,515.73 319.38,516.05 320.12,516.36 320.86,516.67 321.61,516.98 322.35,517.29 323.09,517.59 323.84,517.90 324.58,518.20 325.32,518.50 326.06,518.80 326.81,519.09 327.55,519.38 328.29,519.67 329.04,519.96 329.78,520.25 330.52,520.54 331.27,520.82 332.01,521.10 332.75,521.38 333.50,521.66 334.24,521.93 334.98,522.21 335.72,522.48 336.47,522.75 337.21,523.02 337.95,523.29 338.70,523.55 339.44,523.81 340.18,524.08 340.93,524.34 341.67,524.59 342.41,524.85 343.16,525.11 343.90,525.36 344.64,525.61 345.39,525.86 346.13,526.11 346.87,526.36 347.61,526.60 348.36,526.85 349.10,527.09 349.84,527.33 350.59,527.57 351.33,527.81 352.07,528.04 352.82,528.28 353.56,528.51 354.30,528.75 355.05,528.98 355.79,529.21 356.53,529.43 357.27,529.66 358.02,529.89 358.76,530.11 359.50,530.33 360.25,530.56 360.99,530.78 361.73,530.99 362.48,531.21 363.22,531.43 363.96,531.64 364.71,531.86 365.45,532.07 366.19,532.28 366.94,532.49 367.68,532.70 368.42,532.91 369.16,533.11 369.91,533.32 370.65,533.52 371.39,533.73 372.14,533.93 372.88,534.13 373.62,534.33 374.37,534.53 375.11,534.72 375.85,534.92 376.60,535.12 377.34,535.31 378.08,535.50 378.83,535.69 379.57,535.89 380.31,536.08 381.05,536.26 381.80,536.45 382.54,536.64 383.28,536.82 384.03,537.01 384.77,537.19 385.51,537.38 386.26,537.56 387.00,537.74 387.74,537.92 388.49,538.10 389.23,538.28 389.97,538.45 390.71,538.63 391.46,538.80 392.20,538.98 392.94,539.15 393.69,539.32 394.43,539.50 395.17,539.67 395.92,539.84 396.66,540.00 397.40,540.17 398.15,540.34 398.89,540.51 399.63,540.67 400.38,540.84 401.12,541.00 401.86,541.16 402.60,541.32 403.35,541.49 404.09,541.65 404.83,541.81 405.58,541.96 406.32,542.12 407.06,542.28 407.81,542.44 408.55,542.59 409.29,542.75 410.04,542.90 410.78,543.06 411.52,543.21 412.26,543.36 413.01,543.51 413.75,543.66 414.49,543.81 415.24,543.96 415.98,544.11 416.72,544.26 417.47,544.40 418.21,544.55 418.95,544.69 419.70,544.84 420.44,544.98 421.18,545.13 421.93,545.27 422.67,545.41 423.41,545.55 424.15,545.69 424.90,545.83 425.64,545.97 426.38,546.11 427.13,546.25 427.87,546.39 428.61,546.52 429.36,546.66 430.10,546.80 430.84,546.93 431.59,547.06 432.33,547.20 433.07,547.33 433.82,547.46 434.56,547.60 435.30,547.73 436.04,547.86 436.79,547.99 437.53,548.12 438.27,548.25 439.02,548.37 439.76,548.50 440.50,548.63 441.25,548.76 441.99,548.88 442.73,549.01 443.48,549.13 444.22,549.26 444.96,549.38 445.70,549.50 446.45,549.63 447.19,549.75 447.93,549.87 448.68,549.99 449.42,550.11 450.16,550.23 450.91,550.35 451.65,550.47 452.39,550.59 453.14,550.71 453.88,550.83 454.62,550.94 455.37,551.06 456.11,551.17 456.85,551.29 457.59,551.41 458.34,551.52 459.08,551.63 459.82,551.75 460.57,551.86 461.31,551.97 462.05,552.09 462.80,552.20 463.54,552.31 464.28,552.42 465.03,552.53 465.77,552.64 466.51,552.75 467.25,552.86 468.00,552.97 468.74,553.07 469.48,553.18 470.23,553.29 470.97,553.40 471.71,553.50 472.46,553.61 473.20,553.71 473.94,553.82 474.69,553.92 475.43,554.03 476.17,554.13 476.92,554.23 477.66,554.34 478.40,554.44 479.14,554.54 479.89,554.64 480.63,554.74 481.37,554.84 482.12,554.94 482.86,555.04 483.60,555.14 484.35,555.24 485.09,555.34 485.83,555.44 486.58,555.54 487.32,555.64 488.06,555.73 488.81,555.83 489.55,555.93 490.29,556.02 491.03,556.12 491.78,556.21 492.52,556.31 493.26,556.40 494.01,556.50 494.75,556.59 495.49,556.69 496.24,556.78 496.98,556.87 497.72,556.97 498.47,557.06 499.21,557.15 499.95,557.24 500.69,557.33 501.44,557.42 502.18,557.51 502.92,557.60 503.67,557.69 504.41,557.78 505.15,557.87 505.90,557.96 506.64,558.05 507.38,558.14 508.13,558.22 508.87,558.31 509.61,558.40 510.36,558.49 511.10,558.57 511.84,558.66 512.58,558.74 513.33,558.83 514.07,558.92 514.81,559.00 515.56,559.09 516.30,559.17" fill="none" stroke="#0072BD" stroke-width="2.1" stroke-linejoin="round" stroke-linecap="round" clip-path="url(#cc)"/>
<path d="M219.80,416.23 220.54,417.57 221.29,418.89 222.03,420.19 222.77,421.47 223.52,422.72 224.26,423.95 225.00,425.17 225.74,426.36 226.49,427.54 227.23,428.70 227.97,429.83 228.72,430.96 229.46,432.06 230.20,433.15 230.95,434.22 231.69,435.28 232.43,436.32 233.18,437.34 233.92,438.35 234.66,439.35 235.41,440.33 236.15,441.30 236.89,442.26 237.63,443.20 238.38,444.13 239.12,445.05 239.86,445.95 240.61,446.84 241.35,447.73 242.09,448.60 242.84,449.45 243.58,450.30 244.32,451.14 245.07,451.97 245.81,452.78 246.55,453.59 247.29,454.39 248.04,455.17 248.78,455.95 249.52,456.72 250.27,457.48 251.01,458.23 251.75,458.97 252.50,459.70 253.24,460.43 253.98,461.15 254.73,461.85 255.47,462.55 256.21,463.25 256.96,463.93 257.70,464.61 258.44,465.28 259.18,465.94 259.93,466.60 260.67,467.25 261.41,467.89 262.16,468.52 262.90,469.15 263.64,469.77 264.39,470.39 265.13,471.00 265.87,471.60 266.62,472.20 267.36,472.79 268.10,473.38 268.85,473.95 269.59,474.53 270.33,475.10 271.07,475.66 271.82,476.22 272.56,476.77 273.30,477.31 274.05,477.85 274.79,478.39 275.53,478.92 276.28,479.45 277.02,479.97 277.76,480.49 278.51,481.00 279.25,481.50 279.99,482.01 280.73,482.50 281.48,483.00 282.22,483.49 282.96,483.97 283.71,484.45 284.45,484.93 285.19,485.40 285.94,485.87 286.68,486.33 287.42,486.79 288.17,487.25 288.91,487.70 289.65,488.15 290.40,488.59 291.14,489.03 291.88,489.47 292.62,489.90 293.37,490.33 294.11,490.76 294.85,491.18 295.60,491.60 296.34,492.02 297.08,492.43 297.83,492.84 298.57,493.25 299.31,493.65 300.06,494.05 300.80,494.45 301.54,494.84 302.28,495.23 303.03,495.62 303.77,496.00 304.51,496.38 305.26,496.76 306.00,497.14 306.74,497.51 307.49,497.88 308.23,498.25 308.97,498.61 309.72,498.98 310.46,499.33 311.20,499.69 311.95,500.04 312.69,500.40 313.43,500.74 314.17,501.09 314.92,501.43 315.66,501.78 316.40,502.11 317.15,502.45 317.89,502.78 318.63,503.12 319.38,503.45 320.12,503.77 320.86,504.10 321.61,504.42 322.35,504.74 323.09,505.06 323.84,505.37 324.58,505.69 325.32,506.00 326.06,506.31 326.81,506.62 327.55,506.92 328.29,507.22 329.04,507.52 329.78,507.82 330.52,508.12 331.27,508.42 332.01,508.71 332.75,509.00 333.50,509.29 334.24,509.58 334.98,509.86 335.72,510.15 336.47,510.43 337.21,510.71 337.95,510.99 338.70,511.26 339.44,511.54 340.18,511.81 340.93,512.08 341.67,512.35 342.41,512.62 343.16,512.89 343.90,513.15 344.64,513.41 345.39,513.67 346.13,513.93 346.87,514.19 347.61,514.45 348.36,514.70 349.10,514.96 349.84,515.21 350.59,515.46 351.33,515.71 352.07,515.96 352.82,516.20 353.56,516.45 354.30,516.69 355.05,516.93 355.79,517.17 356.53,517.41 357.27,517.65 358.02,517.88 358.76,518.12 359.50,518.35 360.25,518.58 360.99,518.81 361.73,519.04 362.48,519.27 363.22,519.50 363.96,519.72 364.71,519.94 365.45,520.17 366.19,520.39 366.94,520.61 367.68,520.83 368.42,521.05 369.16,521.26 369.91,521.48 370.65,521.69 371.39,521.90 372.14,522.12 372.88,522.33 373.62,522.54 374.37,522.74 375.11,522.95 375.85,523.16 376.60,523.36 377.34,523.57 378.08,523.77 378.83,523.97 379.57,524.17 380.31,524.37 381.05,524.57 381.80,524.77 382.54,524.96 383.28,525.16 384.03,525.35 384.77,525.54 385.51,525.74 386.26,525.93 387.00,526.12 387.74,526.31 388.49,526.50 389.23,526.68 389.97,526.87 390.71,527.05 391.46,527.24 392.20,527.42 392.94,527.60 393.69,527.79 394.43,527.97 395.17,528.15 395.92,528.33 396.66,528.50 397.40,528.68 398.15,528.86 398.89,529.03 399.63,529.21 400.38,529.38 401.12,529.55 401.86,529.72 402.60,529.90 403.35,530.07 404.09,530.23 404.83,530.40 405.58,530.57 406.32,530.74 407.06,530.90 407.81,531.07 408.55,531.23 409.29,531.40 410.04,531.56 410.78,531.72 411.52,531.88 412.26,532.04 413.01,532.20 413.75,532.36 414.49,532.52 415.24,532.68 415.98,532.84 416.72,532.99 417.47,533.15 418.21,533.30 418.95,533.46 419.70,533.61 420.44,533.76 421.18,533.91 421.93,534.06 422.67,534.21 423.41,534.36 424.15,534.51 424.90,534.66 425.64,534.81 426.38,534.96 427.13,535.10 427.87,535.25 428.61,535.39 429.36,535.54 430.10,535.68 430.84,535.82 431.59,535.97 432.33,536.11 433.07,536.25 433.82,536.39 434.56,536.53 435.30,536.67 436.04,536.81 436.79,536.95 437.53,537.08 438.27,537.22 439.02,537.36 439.76,537.49 440.50,537.63 441.25,537.76 441.99,537.90 442.73,538.03 443.48,538.16 444.22,538.29 444.96,538.43 445.70,538.56 446.45,538.69 447.19,538.82 447.93,538.95 448.68,539.08 449.42,539.20 450.16,539.33 450.91,539.46 451.65,539.59 452.39,539.71 453.14,539.84 453.88,539.96 454.62,540.09 455.37,540.21 456.11,540.33 456.85,540.46 457.59,540.58 458.34,540.70 459.08,540.82 459.82,540.94 460.57,541.07 461.31,541.19 462.05,541.30 462.80,541.42 463.54,541.54 464.28,541.66 465.03,541.78 465.77,541.90 466.51,542.01 467.25,542.13 468.00,542.24 468.74,542.36 469.48,542.47 470.23,542.59 470.97,542.70 471.71,542.82 472.46,542.93 473.20,543.04 473.94,543.15 474.69,543.27 475.43,543.38 476.17,543.49 476.92,543.60 477.66,543.71 478.40,543.82 479.14,543.93 479.89,544.03 480.63,544.14 481.37,544.25 482.12,544.36 482.86,544.47 483.60,544.57 484.35,544.68 485.09,544.78 485.83,544.89 486.58,544.99 487.32,545.10 488.06,545.20 488.81,545.31 489.55,545.41 490.29,545.51 491.03,545.62 491.78,545.72 492.52,545.82 493.26,545.92 494.01,546.02 494.75,546.12 495.49,546.22 496.24,546.32 496.98,546.42 497.72,546.52 498.47,546.62 499.21,546.72 499.95,546.82 500.69,546.91 501.44,547.01 502.18,547.11 502.92,547.21 503.67,547.30 504.41,547.40 505.15,547.49 505.90,547.59 506.64,547.68 507.38,547.78 508.13,547.87 508.87,547.97 509.61,548.06 510.36,548.15 511.10,548.25 511.84,548.34 512.58,548.43 513.33,548.52 514.07,548.61 514.81,548.71 515.56,548.80 516.30,548.89" fill="none" stroke="#D95319" stroke-width="2.1" stroke-linejoin="round" stroke-linecap="round" clip-path="url(#cc)"/>
<path d="M219.80,398.01 220.54,399.56 221.29,401.07 222.03,402.55 222.77,404.01 223.52,405.43 224.26,406.84 225.00,408.21 225.74,409.56 226.49,410.89 227.23,412.19 227.97,413.47 228.72,414.73 229.46,415.97 230.20,417.19 230.95,418.38 231.69,419.56 232.43,420.72 233.18,421.86 233.92,422.98 234.66,424.08 235.41,425.17 236.15,426.24 236.89,427.29 237.63,428.33 238.38,429.35 239.12,430.36 239.86,431.35 240.61,432.33 241.35,433.30 242.09,434.25 242.84,435.18 243.58,436.11 244.32,437.02 245.07,437.92 245.81,438.81 246.55,439.69 247.29,440.55 248.04,441.40 248.78,442.25 249.52,443.08 250.27,443.90 251.01,444.71 251.75,445.51 252.50,446.30 253.24,447.09 253.98,447.86 254.73,448.62 255.47,449.38 256.21,450.12 256.96,450.86 257.70,451.58 258.44,452.30 259.18,453.02 259.93,453.72 260.67,454.41 261.41,455.10 262.16,455.78 262.90,456.46 263.64,457.12 264.39,457.78 265.13,458.43 265.87,459.08 266.62,459.71 267.36,460.35 268.10,460.97 268.85,461.59 269.59,462.20 270.33,462.81 271.07,463.41 271.82,464.00 272.56,464.59 273.30,465.17 274.05,465.75 274.79,466.32 275.53,466.88 276.28,467.44 277.02,468.00 277.76,468.55 278.51,469.09 279.25,469.63 279.99,470.17 280.73,470.70 281.48,471.22 282.22,471.74 282.96,472.26 283.71,472.77 284.45,473.27 285.19,473.77 285.94,474.27 286.68,474.76 287.42,475.25 288.17,475.74 288.91,476.22 289.65,476.69 290.40,477.17 291.14,477.63 291.88,478.10 292.62,478.56 293.37,479.02 294.11,479.47 294.85,479.92 295.60,480.36 296.34,480.80 297.08,481.24 297.83,481.68 298.57,482.11 299.31,482.54 300.06,482.96 300.80,483.38 301.54,483.80 302.28,484.22 303.03,484.63 303.77,485.04 304.51,485.44 305.26,485.84 306.00,486.24 306.74,486.64 307.49,487.03 308.23,487.42 308.97,487.81 309.72,488.19 310.46,488.58 311.20,488.95 311.95,489.33 312.69,489.70 313.43,490.08 314.17,490.44 314.92,490.81 315.66,491.17 316.40,491.53 317.15,491.89 317.89,492.25 318.63,492.60 319.38,492.95 320.12,493.30 320.86,493.64 321.61,493.98 322.35,494.33 323.09,494.66 323.84,495.00 324.58,495.33 325.32,495.67 326.06,496.00 326.81,496.32 327.55,496.65 328.29,496.97 329.04,497.29 329.78,497.61 330.52,497.93 331.27,498.24 332.01,498.55 332.75,498.87 333.50,499.17 334.24,499.48 334.98,499.79 335.72,500.09 336.47,500.39 337.21,500.69 337.95,500.99 338.70,501.28 339.44,501.57 340.18,501.87 340.93,502.16 341.67,502.44 342.41,502.73 343.16,503.01 343.90,503.30 344.64,503.58 345.39,503.86 346.13,504.13 346.87,504.41 347.61,504.69 348.36,504.96 349.10,505.23 349.84,505.50 350.59,505.77 351.33,506.03 352.07,506.30 352.82,506.56 353.56,506.82 354.30,507.08 355.05,507.34 355.79,507.60 356.53,507.85 357.27,508.11 358.02,508.36 358.76,508.61 359.50,508.86 360.25,509.11 360.99,509.36 361.73,509.61 362.48,509.85 363.22,510.09 363.96,510.33 364.71,510.57 365.45,510.81 366.19,511.05 366.94,511.29 367.68,511.52 368.42,511.76 369.16,511.99 369.91,512.22 370.65,512.45 371.39,512.68 372.14,512.91 372.88,513.13 373.62,513.36 374.37,513.58 375.11,513.81 375.85,514.03 376.60,514.25 377.34,514.47 378.08,514.69 378.83,514.90 379.57,515.12 380.31,515.33 381.05,515.55 381.80,515.76 382.54,515.97 383.28,516.18 384.03,516.39 384.77,516.60 385.51,516.81 386.26,517.01 387.00,517.22 387.74,517.42 388.49,517.63 389.23,517.83 389.97,518.03 390.71,518.23 391.46,518.43 392.20,518.63 392.94,518.83 393.69,519.02 394.43,519.22 395.17,519.41 395.92,519.60 396.66,519.80 397.40,519.99 398.15,520.18 398.89,520.37 399.63,520.56 400.38,520.75 401.12,520.93 401.86,521.12 402.60,521.30 403.35,521.49 404.09,521.67 404.83,521.85 405.58,522.04 406.32,522.22 407.06,522.40 407.81,522.58 408.55,522.75 409.29,522.93 410.04,523.11 410.78,523.28 411.52,523.46 412.26,523.63 413.01,523.81 413.75,523.98 414.49,524.15 415.24,524.32 415.98,524.49 416.72,524.66 417.47,524.83 418.21,525.00 418.95,525.17 419.70,525.33 420.44,525.50 421.18,525.66 421.93,525.83 422.67,525.99 423.41,526.15 424.15,526.32 424.90,526.48 425.64,526.64 426.38,526.80 427.13,526.96 427.87,527.11 428.61,527.27 429.36,527.43 430.10,527.59 430.84,527.74 431.59,527.90 432.33,528.05 433.07,528.21 433.82,528.36 434.56,528.51 435.30,528.66 436.04,528.81 436.79,528.96 437.53,529.11 438.27,529.26 439.02,529.41 439.76,529.56 440.50,529.71 441.25,529.85 441.99,530.00 442.73,530.15 443.48,530.29 444.22,530.44 444.96,530.58 445.70,530.72 446.45,530.87 447.19,531.01 447.93,531.15 448.68,531.29 449.42,531.43 450.16,531.57 450.91,531.71 451.65,531.85 452.39,531.98 453.14,532.12 453.88,532.26 454.62,532.40 455.37,532.53 456.11,532.67 456.85,532.80 457.59,532.94 458.34,533.07 459.08,533.20 459.82,533.33 460.57,533.47 461.31,533.60 462.05,533.73 462.80,533.86 463.54,533.99 464.28,534.12 465.03,534.25 465.77,534.38 466.51,534.50 467.25,534.63 468.00,534.76 468.74,534.88 469.48,535.01 470.23,535.14 470.97,535.26 471.71,535.39 472.46,535.51 473.20,535.63 473.94,535.76 474.69,535.88 475.43,536.00 476.17,536.12 476.92,536.24 477.66,536.36 478.40,536.48 479.14,536.60 479.89,536.72 480.63,536.84 481.37,536.96 482.12,537.08 482.86,537.20 483.60,537.31 484.35,537.43 485.09,537.55 485.83,537.66 486.58,537.78 487.32,537.89 488.06,538.01 488.81,538.12 489.55,538.24 490.29,538.35 491.03,538.46 491.78,538.58 492.52,538.69 493.26,538.80 494.01,538.91 494.75,539.02 495.49,539.13 496.24,539.24 496.98,539.35 497.72,539.46 498.47,539.57 499.21,539.68 499.95,539.79 500.69,539.89 501.44,540.00 502.18,540.11 502.92,540.22 503.67,540.32 504.41,540.43 505.15,540.53 505.90,540.64 506.64,540.74 507.38,540.85 508.13,540.95 508.87,541.05 509.61,541.16 510.36,541.26 511.10,541.36 511.84,541.47 512.58,541.57 513.33,541.67 514.07,541.77 514.81,541.87 515.56,541.97 516.30,542.07" fill="none" stroke="#EDB120" stroke-width="2.1" stroke-linejoin="round" stroke-linecap="round" clip-path="url(#cc)"/>
<path d="M219.80,371.85 220.54,373.46 221.29,375.05 222.03,376.62 222.77,378.17 223.52,379.70 224.26,381.21 225.00,382.71 225.74,384.18 226.49,385.64 227.23,387.07 227.97,388.49 228.72,389.89 229.46,391.28 230.20,392.65 230.95,394.00 231.69,395.33 232.43,396.65 233.18,397.95 233.92,399.23 234.66,400.50 235.41,401.76 236.15,403.00 236.89,404.22 237.63,405.43 238.38,406.63 239.12,407.81 239.86,408.97 240.61,410.13 241.35,411.27 242.09,412.39 242.84,413.51 243.58,414.61 244.32,415.69 245.07,416.77 245.81,417.83 246.55,418.88 247.29,419.92 248.04,420.95 248.78,421.96 249.52,422.96 250.27,423.96 251.01,424.94 251.75,425.91 252.50,426.87 253.24,427.82 253.98,428.75 254.73,429.68 255.47,430.60 256.21,431.51 256.96,432.40 257.70,433.29 258.44,434.17 259.18,435.04 259.93,435.90 260.67,436.75 261.41,437.59 262.16,438.42 262.90,439.25 263.64,440.06 264.39,440.87 265.13,441.67 265.87,442.46 266.62,443.24 267.36,444.01 268.10,444.78 268.85,445.54 269.59,446.29 270.33,447.03 271.07,447.77 271.82,448.49 272.56,449.22 273.30,449.93 274.05,450.64 274.79,451.33 275.53,452.03 276.28,452.71 277.02,453.39 277.76,454.06 278.51,454.73 279.25,455.39 279.99,456.04 280.73,456.69 281.48,457.33 282.22,457.97 282.96,458.60 283.71,459.22 284.45,459.84 285.19,460.45 285.94,461.05 286.68,461.65 287.42,462.25 288.17,462.84 288.91,463.42 289.65,464.00 290.40,464.57 291.14,465.14 291.88,465.70 292.62,466.26 293.37,466.81 294.11,467.36 294.85,467.90 295.60,468.44 296.34,468.97 297.08,469.50 297.83,470.02 298.57,470.54 299.31,471.06 300.06,471.57 300.80,472.07 301.54,472.58 302.28,473.07 303.03,473.57 303.77,474.05 304.51,474.54 305.26,475.02 306.00,475.50 306.74,475.97 307.49,476.44 308.23,476.90 308.97,477.36 309.72,477.82 310.46,478.27 311.20,478.72 311.95,479.17 312.69,479.61 313.43,480.05 314.17,480.48 314.92,480.92 315.66,481.34 316.40,481.77 317.15,482.19 317.89,482.61 318.63,483.02 319.38,483.43 320.12,483.84 320.86,484.25 321.61,484.65 322.35,485.05 323.09,485.44 323.84,485.83 324.58,486.22 325.32,486.61 326.06,486.99 326.81,487.37 327.55,487.75 328.29,488.13 329.04,488.50 329.78,488.87 330.52,489.23 331.27,489.60 332.01,489.96 332.75,490.32 333.50,490.67 334.24,491.03 334.98,491.38 335.72,491.72 336.47,492.07 337.21,492.41 337.95,492.75 338.70,493.09 339.44,493.42 340.18,493.76 340.93,494.09 341.67,494.42 342.41,494.74 343.16,495.07 343.90,495.39 344.64,495.71 345.39,496.02 346.13,496.34 346.87,496.65 347.61,496.96 348.36,497.27 349.10,497.57 349.84,497.88 350.59,498.18 351.33,498.48 352.07,498.78 352.82,499.07 353.56,499.36 354.30,499.66 355.05,499.95 355.79,500.23 356.53,500.52 357.27,500.80 358.02,501.08 358.76,501.36 359.50,501.64 360.25,501.92 360.99,502.19 361.73,502.47 362.48,502.74 363.22,503.01 363.96,503.27 364.71,503.54 365.45,503.80 366.19,504.07 366.94,504.33 367.68,504.58 368.42,504.84 369.16,505.10 369.91,505.35 370.65,505.60 371.39,505.85 372.14,506.10 372.88,506.35 373.62,506.60 374.37,506.84 375.11,507.08 375.85,507.33 376.60,507.57 377.34,507.80 378.08,508.04 378.83,508.28 379.57,508.51 380.31,508.74 381.05,508.97 381.80,509.20 382.54,509.43 383.28,509.66 384.03,509.89 384.77,510.11 385.51,510.33 386.26,510.55 387.00,510.77 387.74,510.99 388.49,511.21 389.23,511.43 389.97,511.64 390.71,511.86 391.46,512.07 392.20,512.28 392.94,512.49 393.69,512.70 394.43,512.91 395.17,513.11 395.92,513.32 396.66,513.52 397.40,513.73 398.15,513.93 398.89,514.13 399.63,514.33 400.38,514.53 401.12,514.72 401.86,514.92 402.60,515.11 403.35,515.31 404.09,515.50 404.83,515.69 405.58,515.88 406.32,516.07 407.06,516.26 407.81,516.45 408.55,516.64 409.29,516.82 410.04,517.01 410.78,517.19 411.52,517.37 412.26,517.55 413.01,517.73 413.75,517.91 414.49,518.09 415.24,518.27 415.98,518.45 416.72,518.62 417.47,518.80 418.21,518.97 418.95,519.14 419.70,519.32 420.44,519.49 421.18,519.66 421.93,519.83 422.67,519.99 423.41,520.16 424.15,520.33 424.90,520.49 425.64,520.66 426.38,520.82 427.13,520.99 427.87,521.15 428.61,521.31 429.36,521.47 430.10,521.63 430.84,521.79 431.59,521.95 432.33,522.10 433.07,522.26 433.82,522.42 434.56,522.57 435.30,522.73 436.04,522.88 436.79,523.03 437.53,523.18 438.27,523.33 439.02,523.48 439.76,523.63 440.50,523.78 441.25,523.93 441.99,524.08 442.73,524.23 443.48,524.37 444.22,524.52 444.96,524.66 445.70,524.81 446.45,524.95 447.19,525.09 447.93,525.23 448.68,525.37 449.42,525.51 450.16,525.65 450.91,525.79 451.65,525.93 452.39,526.07 453.14,526.21 453.88,526.34 454.62,526.48 455.37,526.61 456.11,526.75 456.85,526.88 457.59,527.01 458.34,527.15 459.08,527.28 459.82,527.41 460.57,527.54 461.31,527.67 462.05,527.80 462.80,527.93 463.54,528.06 464.28,528.19 465.03,528.31 465.77,528.44 466.51,528.56 467.25,528.69 468.00,528.81 468.74,528.94 469.48,529.06 470.23,529.19 470.97,529.31 471.71,529.43 472.46,529.55 473.20,529.67 473.94,529.79 474.69,529.91 475.43,530.03 476.17,530.15 476.92,530.27 477.66,530.39 478.40,530.50 479.14,530.62 479.89,530.74 480.63,530.85 481.37,530.97 482.12,531.08 482.86,531.20 483.60,531.31 484.35,531.42 485.09,531.54 485.83,531.65 486.58,531.76 487.32,531.87 488.06,531.98 488.81,532.09 489.55,532.20 490.29,532.31 491.03,532.42 491.78,532.53 492.52,532.64 493.26,532.74 494.01,532.85 494.75,532.96 495.49,533.06 496.24,533.17 496.98,533.27 497.72,533.38 498.47,533.48 499.21,533.59 499.95,533.69 500.69,533.79 501.44,533.89 502.18,534.00 502.92,534.10 503.67,534.20 504.41,534.30 505.15,534.40 505.90,534.50 506.64,534.60 507.38,534.70 508.13,534.80 508.87,534.90 509.61,534.99 510.36,535.09 511.10,535.19 511.84,535.29 512.58,535.38 513.33,535.48 514.07,535.57 514.81,535.67 515.56,535.76 516.30,535.86" fill="none" stroke="#7E2F8E" stroke-width="2.1" stroke-linejoin="round" stroke-linecap="round" clip-path="url(#cc)"/>
<path d="M219.80,342.73 220.54,344.58 221.29,346.41 222.03,348.22 222.77,350.00 223.52,351.77 224.26,353.51 225.00,355.24 225.74,356.94 226.49,358.62 227.23,360.28 227.97,361.92 228.72,363.55 229.46,365.15 230.20,366.73 230.95,368.30 231.69,369.84 232.43,371.37 233.18,372.88 233.92,374.37 234.66,375.84 235.41,377.30 236.15,378.74 236.89,380.16 237.63,381.56 238.38,382.95 239.12,384.32 239.86,385.68 240.61,387.02 241.35,388.34 242.09,389.65 242.84,390.95 243.58,392.23 244.32,393.49 245.07,394.74 245.81,395.98 246.55,397.20 247.29,398.41 248.04,399.60 248.78,400.78 249.52,401.95 250.27,403.10 251.01,404.25 251.75,405.37 252.50,406.49 253.24,407.59 253.98,408.69 254.73,409.77 255.47,410.83 256.21,411.89 256.96,412.93 257.70,413.97 258.44,414.99 259.18,416.00 259.93,417.00 260.67,417.99 261.41,418.97 262.16,419.94 262.90,420.90 263.64,421.85 264.39,422.78 265.13,423.71 265.87,424.63 266.62,425.54 267.36,426.44 268.10,427.33 268.85,428.21 269.59,429.08 270.33,429.95 271.07,430.80 271.82,431.65 272.56,432.49 273.30,433.32 274.05,434.14 274.79,434.95 275.53,435.75 276.28,436.55 277.02,437.34 277.76,438.12 278.51,438.89 279.25,439.66 279.99,440.42 280.73,441.17 281.48,441.91 282.22,442.65 282.96,443.38 283.71,444.10 284.45,444.81 285.19,445.52 285.94,446.23 286.68,446.92 287.42,447.61 288.17,448.29 288.91,448.97 289.65,449.64 290.40,450.30 291.14,450.96 291.88,451.61 292.62,452.26 293.37,452.90 294.11,453.53 294.85,454.16 295.60,454.78 296.34,455.40 297.08,456.01 297.83,456.61 298.57,457.21 299.31,457.81 300.06,458.40 300.80,458.98 301.54,459.56 302.28,460.14 303.03,460.71 303.77,461.27 304.51,461.83 305.26,462.39 306.00,462.94 306.74,463.48 307.49,464.02 308.23,464.56 308.97,465.09 309.72,465.62 310.46,466.14 311.20,466.66 311.95,467.17 312.69,467.68 313.43,468.19 314.17,468.69 314.92,469.19 315.66,469.68 316.40,470.17 317.15,470.65 317.89,471.13 318.63,471.61 319.38,472.09 320.12,472.55 320.86,473.02 321.61,473.48 322.35,473.94 323.09,474.40 323.84,474.85 324.58,475.29 325.32,475.74 326.06,476.18 326.81,476.62 327.55,477.05 328.29,477.48 329.04,477.91 329.78,478.33 330.52,478.75 331.27,479.17 332.01,479.58 332.75,479.99 333.50,480.40 334.24,480.81 334.98,481.21 335.72,481.61 336.47,482.00 337.21,482.39 337.95,482.78 338.70,483.17 339.44,483.56 340.18,483.94 340.93,484.32 341.67,484.69 342.41,485.06 343.16,485.43 343.90,485.80 344.64,486.17 345.39,486.53 346.13,486.89 346.87,487.25 347.61,487.60 348.36,487.95 349.10,488.30 349.84,488.65 350.59,488.99 351.33,489.33 352.07,489.67 352.82,490.01 353.56,490.35 354.30,490.68 355.05,491.01 355.79,491.34 356.53,491.66 357.27,491.99 358.02,492.31 358.76,492.63 359.50,492.94 360.25,493.26 360.99,493.57 361.73,493.88 362.48,494.19 363.22,494.50 363.96,494.80 364.71,495.10 365.45,495.41 366.19,495.70 366.94,496.00 367.68,496.29 368.42,496.59 369.16,496.88 369.91,497.17 370.65,497.45 371.39,497.74 372.14,498.02 372.88,498.30 373.62,498.58 374.37,498.86 375.11,499.14 375.85,499.41 376.60,499.68 377.34,499.95 378.08,500.22 378.83,500.49 379.57,500.75 380.31,501.02 381.05,501.28 381.80,501.54 382.54,501.80 383.28,502.06 384.03,502.31 384.77,502.57 385.51,502.82 386.26,503.07 387.00,503.32 387.74,503.57 388.49,503.82 389.23,504.06 389.97,504.30 390.71,504.55 391.46,504.79 392.20,505.03 392.94,505.26 393.69,505.50 394.43,505.73 395.17,505.97 395.92,506.20 396.66,506.43 397.40,506.66 398.15,506.89 398.89,507.12 399.63,507.34 400.38,507.56 401.12,507.79 401.86,508.01 402.60,508.23 403.35,508.45 404.09,508.67 404.83,508.88 405.58,509.10 406.32,509.31 407.06,509.52 407.81,509.74 408.55,509.95 409.29,510.15 410.04,510.36 410.78,510.57 411.52,510.77 412.26,510.98 413.01,511.18 413.75,511.38 414.49,511.59 415.24,511.79 415.98,511.98 416.72,512.18 417.47,512.38 418.21,512.57 418.95,512.77 419.70,512.96 420.44,513.15 421.18,513.35 421.93,513.54 422.67,513.73 423.41,513.91 424.15,514.10 424.90,514.29 425.64,514.47 426.38,514.66 427.13,514.84 427.87,515.02 428.61,515.20 429.36,515.38 430.10,515.56 430.84,515.74 431.59,515.92 432.33,516.10 433.07,516.27 433.82,516.45 434.56,516.62 435.30,516.79 436.04,516.96 436.79,517.14 437.53,517.31 438.27,517.48 439.02,517.64 439.76,517.81 440.50,517.98 441.25,518.14 441.99,518.31 442.73,518.47 443.48,518.64 444.22,518.80 444.96,518.96 445.70,519.12 446.45,519.28 447.19,519.44 447.93,519.60 448.68,519.76 449.42,519.92 450.16,520.07 450.91,520.23 451.65,520.38 452.39,520.54 453.14,520.69 453.88,520.84 454.62,520.99 455.37,521.14 456.11,521.29 456.85,521.44 457.59,521.59 458.34,521.74 459.08,521.89 459.82,522.03 460.57,522.18 461.31,522.33 462.05,522.47 462.80,522.61 463.54,522.76 464.28,522.90 465.03,523.04 465.77,523.18 466.51,523.32 467.25,523.46 468.00,523.60 468.74,523.74 469.48,523.88 470.23,524.01 470.97,524.15 471.71,524.29 472.46,524.42 473.20,524.56 473.94,524.69 474.69,524.82 475.43,524.96 476.17,525.09 476.92,525.22 477.66,525.35 478.40,525.48 479.14,525.61 479.89,525.74 480.63,525.87 481.37,526.00 482.12,526.13 482.86,526.25 483.60,526.38 484.35,526.50 485.09,526.63 485.83,526.75 486.58,526.88 487.32,527.00 488.06,527.12 488.81,527.25 489.55,527.37 490.29,527.49 491.03,527.61 491.78,527.73 492.52,527.85 493.26,527.97 494.01,528.09 494.75,528.21 495.49,528.33 496.24,528.44 496.98,528.56 497.72,528.68 498.47,528.79 499.21,528.91 499.95,529.02 500.69,529.13 501.44,529.25 502.18,529.36 502.92,529.47 503.67,529.59 504.41,529.70 505.15,529.81 505.90,529.92 506.64,530.03 507.38,530.14 508.13,530.25 508.87,530.36 509.61,530.47 510.36,530.58 511.10,530.68 511.84,530.79 512.58,530.90 513.33,531.00 514.07,531.11 514.81,531.21 515.56,531.32 516.30,531.42" fill="none" stroke="#77AC30" stroke-width="2.1" stroke-linejoin="round" stroke-linecap="round" clip-path="url(#cc)"/>
<text x="367.6" y="332.7" font-family="'Liberation Sans', sans-serif" font-size="14.3" font-weight="bold" text-anchor="middle" fill="#000" textLength="212.5" lengthAdjust="spacing">Nonlinearity Coefficient gamma</text>
<text x="214.8" y="569.9" font-family="'Liberation Sans', sans-serif" font-size="12.2" font-weight="normal" text-anchor="end" fill="#000">0</text>
<text x="214.8" y="524.56" font-family="'Liberation Sans', sans-serif" font-size="12.2" font-weight="normal" text-anchor="end" fill="#000">0.05</text>
<text x="214.8" y="479.22" font-family="'Liberation Sans', sans-serif" font-size="12.2" font-weight="normal" text-anchor="end" fill="#000">0.1</text>
<text x="214.8" y="433.88" font-family="'Liberation Sans', sans-serif" font-size="12.2" font-weight="normal" text-anchor="end" fill="#000">0.15</text>
<text x="214.8" y="388.54" font-family="'Liberation Sans', sans-serif" font-size="12.2" font-weight="normal" text-anchor="end" fill="#000">0.2</text>
<text x="214.8" y="343.20000000000005" font-family="'Liberation Sans', sans-serif" font-size="12.2" font-weight="normal" text-anchor="end" fill="#000">0.25</text>
<text x="252.74444444444444" y="583" font-family="'Liberation Sans', sans-serif" font-size="12.4" font-weight="normal" text-anchor="middle" fill="#000">2000</text>
<text x="318.6333333333333" y="583" font-family="'Liberation Sans', sans-serif" font-size="12.4" font-weight="normal" text-anchor="middle" fill="#000">3000</text>
<text x="384.52222222222224" y="583" font-family="'Liberation Sans', sans-serif" font-size="12.4" font-weight="normal" text-anchor="middle" fill="#000">4000</text>
<text x="450.41111111111104" y="583" font-family="'Liberation Sans', sans-serif" font-size="12.4" font-weight="normal" text-anchor="middle" fill="#000">5000</text>
<text x="516.3" y="583" font-family="'Liberation Sans', sans-serif" font-size="12.4" font-weight="normal" text-anchor="middle" fill="#000">6000</text>
<text x="367.6" y="601.8" font-family="'Liberation Sans', sans-serif" font-size="13" font-weight="normal" text-anchor="middle" fill="#000" textLength="110" lengthAdjust="spacing">Wavelength, [nm]</text>
<text x="184.3" y="452" font-family="'Liberation Sans', sans-serif" font-size="12.6" font-weight="normal" text-anchor="middle" fill="#000" textLength="134" lengthAdjust="spacing" transform="rotate(-90 184.3 452)">Nonlinearity,[W<tspan font-size="10" dy="-6.5">-</tspan><tspan dy="6.5">1.m</tspan><tspan font-size="10" dy="-6.5">-</tspan><tspan dy="6.5">1]</tspan></text>
<text x="366.5" y="624.8" font-family="'Liberation Serif', serif" font-size="14" font-weight="bold" text-anchor="middle" fill="#000">(c)</text>
</svg>
</body></html>
